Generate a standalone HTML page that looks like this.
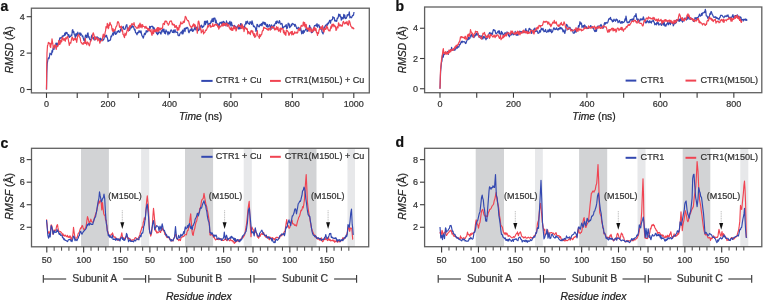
<!DOCTYPE html>
<html><head><meta charset="utf-8"><style>
html,body{margin:0;padding:0;background:#fff;width:763px;height:300px;overflow:hidden}
svg{display:block;font-family:"Liberation Sans",sans-serif;filter:blur(0.35px)}
text{stroke-width:0.22px}
</style></head><body>
<svg width="763" height="300" viewBox="0 0 763 300">
<path d="M46.50 89.50 L46.80 73.12 L47.20 64.02 L47.60 61.38 L48.00 58.74 L48.50 57.80 L49.00 58.65 L49.50 56.41 L50.00 53.15 L50.50 54.12 L51.00 53.80 L51.50 54.81 L52.00 50.56 L52.50 52.23 L53.00 48.48 L53.50 47.34 L54.00 49.42 L54.50 45.43 L55.00 46.41 L55.50 44.55 L56.00 43.16 L56.43 43.06 L56.87 45.72 L57.30 46.73 L57.80 43.16 L58.30 43.50 L58.80 42.40 L59.30 40.32 L59.80 37.84 L60.30 38.42 L60.80 37.53 L61.30 37.75 L61.80 38.13 L62.30 35.91 L62.80 36.59 L63.30 36.06 L63.80 35.38 L64.30 35.65 L64.80 33.13 L65.30 35.03 L65.80 32.43 L66.30 33.60 L66.80 32.29 L67.30 33.52 L67.80 34.41 L68.30 36.23 L68.80 34.60 L69.30 37.44 L69.80 36.29 L70.30 36.63 L70.80 36.01 L71.30 34.77 L71.80 35.81 L72.30 30.21 L72.80 29.76 L73.30 32.66 L73.80 31.58 L74.30 34.57 L74.80 35.03 L75.30 37.68 L75.80 33.90 L76.30 36.04 L76.80 33.41 L77.30 34.84 L77.80 32.16 L78.30 34.03 L78.80 34.28 L79.30 34.69 L79.80 32.74 L80.30 35.40 L80.80 33.18 L81.30 34.73 L81.80 34.86 L82.30 36.53 L82.80 35.95 L83.30 38.27 L84.00 40.56 L84.50 41.11 L85.00 37.86 L85.50 35.14 L86.00 35.02 L86.50 37.41 L87.00 37.68 L87.50 33.26 L88.00 32.93 L88.50 37.26 L89.00 36.53 L89.50 38.86 L90.00 39.63 L90.50 40.31 L91.00 38.94 L91.50 35.92 L92.00 35.00 L92.50 38.22 L93.00 37.46 L93.50 37.80 L94.00 39.74 L94.50 36.72 L95.00 39.99 L95.50 39.27 L96.00 37.57 L96.50 37.87 L97.00 36.66 L97.50 38.01 L98.00 37.62 L98.50 38.25 L99.00 38.22 L99.50 39.04 L100.00 40.44 L100.50 38.23 L101.00 40.39 L101.50 39.11 L102.00 40.64 L102.50 40.55 L103.00 40.54 L103.50 39.33 L104.00 39.09 L104.50 34.94 L105.00 36.71 L105.50 35.88 L106.00 36.99 L106.50 35.22 L107.00 36.94 L107.50 38.16 L108.00 41.53 L108.50 41.07 L109.00 40.18 L109.50 40.59 L110.00 40.41 L110.50 39.85 L111.00 36.07 L111.50 36.84 L112.00 35.56 L112.50 34.00 L113.00 32.76 L113.50 35.08 L114.00 31.89 L114.50 33.03 L115.00 31.35 L115.50 34.37 L116.00 33.92 L116.50 33.93 L117.00 31.63 L117.50 32.23 L118.00 30.93 L118.50 30.64 L119.00 31.99 L119.50 32.35 L120.00 32.05 L120.54 29.22 L121.08 30.49 L121.62 26.83 L122.16 27.90 L122.70 27.67 L123.22 26.43 L123.74 29.18 L124.26 29.22 L124.78 29.39 L125.30 28.25 L125.84 26.35 L126.38 24.85 L126.92 24.72 L127.46 29.83 L128.00 28.26 L128.50 28.74 L129.00 28.19 L129.50 30.46 L130.00 29.50 L130.50 27.08 L131.00 25.66 L131.50 27.97 L132.00 26.85 L132.50 25.72 L133.00 26.97 L133.50 26.65 L134.00 28.58 L134.50 30.18 L135.00 29.17 L135.50 32.68 L136.00 32.78 L136.50 33.83 L137.00 34.80 L137.50 32.39 L138.00 33.06 L138.50 32.53 L139.00 30.59 L139.50 32.03 L140.00 31.01 L140.50 32.74 L141.00 30.80 L141.50 33.78 L142.00 35.86 L142.43 36.04 L142.87 37.27 L143.30 38.21 L143.77 36.52 L144.23 34.03 L144.70 33.18 L145.20 34.59 L145.70 33.46 L146.20 30.69 L146.70 32.02 L147.20 30.86 L147.70 31.79 L148.20 30.61 L148.70 29.48 L149.20 29.92 L149.70 26.44 L150.20 28.40 L150.70 26.81 L151.20 26.35 L151.70 26.33 L152.20 26.62 L152.70 26.34 L153.20 29.23 L153.70 27.35 L154.20 28.18 L154.70 29.42 L155.20 31.63 L155.70 31.02 L156.20 32.23 L156.70 33.52 L157.13 33.81 L157.57 34.65 L158.00 31.97 L158.50 33.71 L159.00 31.87 L159.50 32.22 L160.00 32.03 L160.50 33.32 L161.00 34.07 L161.50 31.13 L162.00 30.27 L162.50 29.53 L163.00 32.02 L163.50 29.05 L164.00 29.02 L164.50 33.21 L165.00 31.74 L165.50 33.94 L166.00 29.83 L166.50 31.35 L167.00 31.42 L167.50 32.58 L168.00 34.97 L168.50 31.89 L169.00 32.16 L169.50 33.77 L170.00 32.74 L170.50 30.84 L171.00 29.91 L171.50 30.07 L172.00 31.46 L172.50 32.35 L173.00 32.53 L173.50 30.10 L174.00 32.71 L174.50 31.99 L175.00 29.68 L175.50 31.59 L176.00 32.55 L176.50 32.22 L177.00 32.17 L177.50 32.03 L178.00 35.28 L178.50 35.08 L179.00 35.83 L179.50 35.29 L180.00 33.34 L180.50 32.87 L181.00 32.16 L181.50 31.83 L182.00 33.88 L182.50 30.07 L183.00 33.92 L183.50 31.42 L184.00 29.57 L184.50 28.26 L185.00 31.71 L185.50 28.01 L186.00 27.97 L186.50 28.61 L187.00 27.32 L187.50 27.71 L188.00 28.25 L188.50 32.04 L189.00 32.79 L189.50 31.52 L190.00 29.87 L190.50 29.75 L191.00 30.67 L191.50 27.81 L192.00 28.84 L192.50 31.50 L193.00 30.22 L193.50 30.93 L194.00 29.21 L194.50 29.22 L195.00 25.86 L195.50 29.02 L196.00 30.05 L196.50 27.23 L197.00 27.19 L197.50 28.50 L198.00 30.74 L198.50 30.66 L199.00 29.19 L199.50 26.15 L200.00 29.60 L200.50 26.34 L201.00 25.61 L201.50 25.13 L202.00 27.50 L202.50 27.62 L203.00 26.09 L203.50 26.71 L204.00 25.81 L204.50 21.54 L205.00 21.15 L205.50 24.76 L206.00 21.24 L206.50 22.76 L207.00 20.83 L207.50 20.86 L208.00 24.89 L208.50 23.92 L209.00 24.82 L209.50 23.26 L210.00 23.75 L210.50 23.76 L211.00 20.81 L211.50 22.17 L212.00 18.97 L212.50 21.54 L213.00 18.35 L213.50 21.54 L214.00 17.99 L214.50 18.32 L215.00 18.13 L215.50 22.81 L216.00 20.20 L216.50 22.58 L217.00 23.91 L217.50 24.70 L218.00 23.72 L218.50 26.61 L219.00 26.98 L219.50 24.04 L220.00 22.30 L220.50 22.67 L221.00 23.23 L221.50 22.11 L222.00 25.23 L222.50 22.90 L223.00 21.42 L223.50 21.44 L224.00 23.36 L224.50 22.11 L225.00 23.49 L225.50 24.82 L226.00 25.91 L226.50 20.88 L227.00 24.41 L227.50 23.55 L228.00 22.94 L228.50 23.55 L229.00 24.97 L229.50 22.21 L230.00 21.29 L230.50 24.55 L231.00 26.06 L231.50 22.19 L232.00 24.76 L232.50 25.36 L233.00 26.01 L233.50 25.99 L234.00 26.75 L234.50 25.40 L235.00 27.75 L235.50 26.34 L236.00 27.14 L236.50 27.66 L237.00 28.00 L237.50 25.91 L238.00 26.20 L238.50 28.98 L239.00 28.75 L239.50 26.13 L240.00 28.87 L240.50 23.72 L241.00 28.05 L241.50 23.90 L242.00 26.13 L242.50 25.57 L243.00 27.41 L243.50 27.74 L244.00 28.00 L244.50 26.81 L245.00 24.48 L245.50 24.09 L246.00 21.45 L246.50 23.94 L247.00 22.29 L247.50 21.16 L248.00 22.93 L248.50 23.64 L249.00 23.46 L249.50 24.33 L250.00 21.57 L250.50 22.85 L251.00 22.21 L251.50 24.46 L252.00 20.74 L252.50 22.71 L253.00 24.72 L253.50 26.60 L254.00 25.88 L254.50 26.71 L255.00 27.23 L255.50 28.26 L256.00 31.46 L256.50 30.18 L257.00 24.37 L257.50 24.56 L258.00 26.08 L258.50 26.19 L259.00 26.98 L259.50 26.43 L260.00 24.33 L260.50 25.29 L261.00 24.94 L261.50 23.46 L262.00 25.91 L262.50 23.33 L263.00 21.94 L263.50 22.33 L264.00 24.18 L264.50 22.35 L265.00 24.74 L265.50 22.89 L266.00 24.79 L266.50 26.52 L267.00 26.84 L267.50 24.42 L268.00 27.26 L268.50 26.22 L269.00 26.02 L269.50 24.64 L270.00 25.61 L270.50 28.90 L271.00 29.46 L271.50 24.74 L272.00 27.14 L272.50 26.23 L273.00 28.51 L273.50 25.55 L274.00 25.02 L274.50 25.97 L275.00 23.49 L275.50 23.48 L276.00 21.52 L276.50 23.62 L277.00 20.81 L277.50 21.94 L278.00 22.32 L278.43 23.05 L278.87 22.54 L279.30 20.50 L279.77 21.35 L280.23 23.85 L280.70 24.20 L281.20 23.95 L281.70 23.28 L282.20 24.05 L282.70 28.14 L283.20 28.12 L283.70 26.86 L284.20 26.82 L284.70 26.14 L285.20 26.62 L285.70 25.55 L286.20 24.60 L286.70 28.65 L287.20 28.24 L287.70 27.00 L288.20 23.07 L288.70 24.83 L289.20 23.94 L289.70 27.66 L290.20 26.70 L290.70 26.62 L291.20 24.66 L291.70 25.53 L292.20 23.30 L292.70 23.92 L293.20 23.86 L293.70 24.50 L294.20 24.35 L294.70 26.27 L295.20 24.38 L295.70 25.53 L296.20 26.88 L296.70 28.62 L297.20 28.58 L297.70 28.65 L298.20 27.22 L298.70 29.12 L299.20 27.97 L299.70 29.00 L300.20 30.08 L300.70 27.92 L301.20 31.23 L301.70 33.86 L302.20 30.78 L302.70 32.64 L303.20 33.58 L303.70 30.45 L304.20 32.30 L304.70 30.87 L305.20 30.35 L305.70 29.28 L306.20 28.21 L306.70 29.54 L307.20 31.51 L307.70 29.38 L308.20 30.48 L308.70 29.17 L309.13 28.77 L309.57 25.40 L310.00 27.43 L310.50 27.31 L311.00 28.25 L311.50 32.65 L312.00 31.62 L312.50 32.38 L313.00 30.74 L313.50 30.98 L314.00 27.13 L314.50 25.62 L315.00 25.47 L315.50 25.59 L316.00 24.83 L316.50 26.07 L317.00 23.70 L317.50 27.24 L318.00 24.82 L318.50 25.39 L319.00 24.88 L319.50 27.92 L320.00 26.85 L320.50 29.01 L321.00 29.31 L321.50 28.84 L322.00 31.93 L322.70 33.13 L323.13 33.99 L323.57 30.38 L324.00 27.13 L324.50 28.80 L325.00 26.48 L325.50 25.34 L326.00 24.84 L326.50 26.51 L327.00 23.88 L327.50 25.11 L328.00 22.94 L328.50 23.51 L329.00 22.05 L329.50 20.59 L330.00 20.23 L330.50 23.23 L331.00 20.48 L331.50 20.07 L332.00 19.69 L332.43 19.68 L332.87 16.66 L333.30 17.95 L333.77 17.84 L334.23 17.61 L334.70 21.00 L335.20 20.20 L335.70 21.13 L336.20 20.81 L336.70 21.31 L337.20 18.15 L337.70 18.50 L338.20 17.30 L338.70 14.13 L339.13 16.08 L339.57 14.85 L340.00 14.36 L340.43 16.78 L340.87 16.70 L341.30 20.12 L341.80 17.46 L342.30 17.52 L342.80 19.04 L343.30 18.44 L343.80 14.34 L344.30 17.76 L344.80 15.14 L345.30 18.71 L345.80 18.12 L346.30 18.31 L346.80 16.65 L347.30 14.65 L347.80 15.79 L348.30 14.65 L348.80 14.45 L349.30 11.93 L349.90 17.82 L350.50 16.84 L351.00 16.96 L351.50 17.78 L352.00 16.93 L352.50 15.35 L353.00 15.62 L353.50 15.09 L354.00 11.97" fill="none" stroke="#3348b0" stroke-width="1.2" stroke-linejoin="round" stroke-opacity="1.0"/>
<path d="M46.50 89.50 L46.70 67.66 L47.00 53.10 L47.50 45.82 L47.95 44.68 L48.40 42.36 L48.85 42.75 L49.30 43.49 L49.77 43.09 L50.23 46.70 L50.70 47.43 L51.13 43.04 L51.57 44.03 L52.00 38.85 L52.43 41.70 L52.87 44.20 L53.30 48.22 L53.80 48.01 L54.30 45.54 L54.80 46.16 L55.30 44.64 L55.77 47.59 L56.23 49.39 L56.70 46.27 L57.20 45.80 L57.70 46.46 L58.20 45.52 L58.70 40.62 L59.13 43.59 L59.57 44.37 L60.00 44.31 L60.43 40.09 L60.87 42.81 L61.30 40.05 L61.80 41.41 L62.30 37.45 L62.80 37.63 L63.30 39.69 L63.80 40.22 L64.30 38.56 L64.80 39.91 L65.30 41.29 L65.80 37.67 L66.30 38.85 L66.80 37.95 L67.30 36.55 L67.80 37.01 L68.30 39.49 L68.80 42.31 L69.30 45.39 L69.80 43.47 L70.30 42.57 L70.80 43.05 L71.30 40.32 L71.77 38.26 L72.23 37.04 L72.70 38.30 L73.20 40.42 L73.70 40.41 L74.20 38.42 L74.70 38.99 L75.20 39.58 L75.70 38.14 L76.20 39.99 L76.70 42.43 L77.20 38.88 L77.70 35.56 L78.20 35.12 L78.70 34.31 L79.20 36.74 L79.70 37.06 L80.20 38.28 L80.70 41.41 L81.20 42.83 L81.70 42.70 L82.20 44.00 L82.70 43.76 L83.13 44.44 L83.57 42.55 L84.00 42.93 L84.43 42.40 L84.87 43.55 L85.30 38.31 L85.80 43.40 L86.30 42.63 L86.80 44.97 L87.30 41.88 L87.80 42.98 L88.30 42.92 L88.80 44.55 L89.30 45.87 L89.80 44.48 L90.30 41.92 L90.80 41.19 L91.30 40.03 L91.80 39.05 L92.30 37.85 L92.80 33.93 L93.30 32.85 L93.80 34.42 L94.30 36.38 L94.80 40.01 L95.30 36.87 L95.80 37.55 L96.30 39.08 L96.80 38.15 L97.30 37.82 L97.80 40.80 L98.30 39.43 L98.80 38.79 L99.30 40.06 L99.80 43.22 L100.30 41.48 L100.80 41.14 L101.30 40.66 L101.80 40.28 L102.30 40.43 L102.80 36.09 L103.30 34.07 L103.77 36.28 L104.23 37.20 L104.70 36.02 L105.13 32.37 L105.57 30.85 L106.00 26.51 L106.43 27.98 L106.87 27.34 L107.30 23.35 L107.77 25.01 L108.23 28.65 L108.70 28.00 L109.13 24.02 L109.57 25.35 L110.00 22.28 L110.50 24.35 L111.00 24.75 L111.50 25.84 L112.00 29.09 L112.50 31.15 L113.00 28.59 L113.50 31.64 L114.00 30.19 L114.50 29.79 L115.00 30.56 L115.50 28.59 L116.00 26.77 L116.50 26.37 L117.00 24.94 L117.50 22.03 L118.00 21.58 L118.50 22.38 L119.00 23.60 L119.50 27.08 L120.00 26.47 L120.50 27.85 L121.00 26.76 L121.50 26.23 L122.00 31.15 L122.50 29.96 L123.00 34.40 L123.50 34.57 L124.00 36.43 L124.50 37.64 L125.00 33.18 L125.50 35.27 L126.00 35.07 L126.50 33.21 L127.00 30.52 L127.50 30.33 L128.00 27.72 L128.50 31.14 L129.00 29.43 L129.50 26.22 L130.00 25.75 L130.50 27.18 L131.00 25.62 L131.50 24.36 L132.00 23.54 L132.50 24.29 L133.00 24.76 L133.50 24.92 L134.00 22.70 L134.50 25.38 L135.00 26.57 L135.50 26.60 L136.00 27.13 L136.50 28.21 L137.00 27.93 L137.50 28.16 L138.00 26.74 L138.50 25.19 L139.00 28.07 L139.50 25.13 L140.00 23.19 L140.50 27.06 L141.00 24.36 L141.50 25.97 L142.00 27.89 L142.50 24.49 L143.00 26.31 L143.50 26.39 L144.00 26.55 L144.50 26.81 L145.00 28.30 L145.50 26.66 L146.00 26.33 L146.50 28.33 L147.00 27.85 L147.50 28.43 L148.00 30.69 L148.50 28.67 L149.00 28.67 L149.50 30.47 L150.00 31.01 L150.50 31.73 L151.00 29.44 L151.50 33.72 L152.00 35.34 L152.50 33.17 L153.00 29.70 L153.50 33.68 L154.00 31.69 L154.50 29.92 L155.00 31.63 L155.50 31.19 L156.00 29.12 L156.50 31.30 L157.00 28.28 L157.50 27.60 L158.00 31.93 L158.50 27.60 L159.00 30.59 L159.50 28.74 L160.00 27.93 L160.50 29.93 L161.00 29.00 L161.50 28.24 L162.00 28.54 L162.50 28.20 L163.00 24.00 L163.50 23.43 L164.00 23.63 L164.43 24.57 L164.87 21.16 L165.30 20.93 L165.80 21.78 L166.30 21.12 L166.80 21.68 L167.30 23.53 L167.80 23.62 L168.30 25.23 L168.80 24.42 L169.30 23.10 L169.80 21.42 L170.30 21.32 L170.80 20.85 L171.30 20.89 L171.80 22.17 L172.30 24.77 L172.80 23.69 L173.30 24.85 L173.80 25.19 L174.30 24.48 L174.80 27.27 L175.30 25.80 L175.80 27.29 L176.30 25.65 L176.80 27.44 L177.30 30.52 L177.80 27.50 L178.30 29.93 L178.80 29.92 L179.30 25.35 L179.80 27.17 L180.30 24.33 L180.80 21.85 L181.30 23.48 L181.80 23.92 L182.30 23.59 L182.80 23.26 L183.30 21.15 L183.80 22.32 L184.30 22.36 L184.80 19.72 L185.30 16.37 L185.80 16.86 L186.30 17.96 L186.80 19.71 L187.30 19.94 L187.80 20.83 L188.30 20.55 L188.80 21.72 L189.30 24.13 L189.80 25.33 L190.30 26.36 L190.80 26.13 L191.30 27.95 L191.80 26.96 L192.30 26.90 L192.80 24.77 L193.30 25.57 L193.80 23.72 L194.30 26.93 L194.80 24.53 L195.30 25.59 L196.00 27.65 L196.43 28.82 L196.87 29.65 L197.30 33.17 L197.77 26.37 L198.23 21.48 L198.70 21.08 L199.13 22.94 L199.57 25.05 L200.00 29.54 L200.43 28.07 L200.87 28.89 L201.30 32.83 L201.77 30.98 L202.23 31.53 L202.70 31.63 L203.13 29.49 L203.57 33.86 L204.00 32.62 L204.43 32.66 L204.87 32.31 L205.30 30.90 L205.80 29.96 L206.30 30.26 L206.80 29.14 L207.30 27.69 L207.80 25.51 L208.30 27.01 L208.80 26.86 L209.30 24.71 L209.80 24.53 L210.30 25.15 L210.80 27.46 L211.30 26.25 L211.80 26.34 L212.30 26.45 L212.80 23.59 L213.30 26.49 L213.80 26.23 L214.30 25.72 L214.80 24.52 L215.30 24.15 L215.80 25.06 L216.30 25.27 L216.80 24.00 L217.30 25.29 L217.80 27.19 L218.30 25.92 L218.80 29.10 L219.30 27.68 L219.80 26.02 L220.30 26.97 L220.80 26.78 L221.30 25.47 L221.80 25.03 L222.30 23.87 L222.80 26.22 L223.30 23.17 L223.80 25.68 L224.30 23.36 L224.80 25.47 L225.30 25.07 L225.80 23.65 L226.30 24.13 L226.80 23.02 L227.30 26.38 L227.80 24.34 L228.30 25.83 L228.80 24.90 L229.30 27.95 L229.80 28.08 L230.30 29.67 L230.80 28.51 L231.30 27.30 L231.80 30.46 L232.30 28.72 L232.80 30.31 L233.30 27.30 L233.84 25.68 L234.38 28.82 L234.92 27.56 L235.46 26.98 L236.00 30.85 L236.50 30.00 L237.00 27.50 L237.50 27.43 L238.00 26.93 L238.50 24.62 L239.00 25.31 L239.50 26.58 L240.00 25.40 L240.50 26.61 L241.00 27.54 L241.50 28.57 L242.00 24.18 L242.50 26.61 L243.00 28.79 L243.50 26.42 L244.00 31.54 L244.50 29.36 L245.00 28.41 L245.50 27.41 L246.00 28.16 L246.43 29.41 L246.87 28.63 L247.30 28.99 L247.80 33.85 L248.30 31.57 L248.80 31.60 L249.30 33.39 L249.80 32.80 L250.30 34.64 L250.80 30.80 L251.30 31.27 L251.80 30.45 L252.30 32.91 L252.80 31.20 L253.30 34.42 L253.80 35.89 L254.30 33.49 L254.80 37.37 L255.30 36.36 L255.80 36.38 L256.30 33.83 L256.80 33.63 L257.30 30.55 L257.80 35.67 L258.30 36.18 L258.80 36.49 L259.30 38.37 L259.77 34.30 L260.23 36.65 L260.70 35.95 L261.20 34.62 L261.70 34.35 L262.20 31.57 L262.70 30.43 L263.20 30.58 L263.70 27.06 L264.20 28.07 L264.70 27.61 L265.20 28.33 L265.70 28.50 L266.20 28.32 L266.70 29.09 L267.20 29.53 L267.70 28.78 L268.20 30.39 L268.70 28.49 L269.20 28.20 L269.70 29.07 L270.20 30.19 L270.70 29.42 L271.20 27.62 L271.70 26.53 L272.20 26.98 L272.70 27.62 L273.13 26.97 L273.57 27.85 L274.00 27.07 L274.50 29.91 L275.00 28.38 L275.50 29.68 L276.00 29.75 L276.50 26.71 L277.00 27.96 L277.50 29.64 L278.00 27.21 L278.50 31.09 L279.00 30.53 L279.50 30.81 L280.00 28.29 L280.50 32.08 L281.00 27.81 L281.50 29.16 L282.00 28.79 L282.50 28.50 L283.00 28.77 L283.50 32.61 L284.00 30.67 L284.43 34.23 L284.87 32.33 L285.30 33.50 L285.80 35.44 L286.30 30.48 L286.80 30.09 L287.30 30.95 L287.80 31.52 L288.30 32.10 L288.80 35.22 L289.30 34.99 L289.80 32.92 L290.30 32.42 L290.80 33.23 L291.30 31.50 L291.80 34.82 L292.30 31.43 L292.80 33.77 L293.30 34.69 L293.80 33.44 L294.30 33.62 L294.80 31.73 L295.30 32.80 L295.80 33.09 L296.30 32.89 L296.80 32.21 L297.30 33.09 L297.80 32.48 L298.30 28.93 L298.80 29.94 L299.30 28.84 L299.80 30.73 L300.30 27.52 L300.80 26.99 L301.30 25.25 L301.80 26.13 L302.30 26.17 L302.80 26.02 L303.30 21.99 L303.77 22.27 L304.23 25.81 L304.70 22.51 L305.20 27.30 L305.70 25.19 L306.20 24.43 L306.70 28.89 L307.20 28.10 L307.70 29.38 L308.20 27.87 L308.70 29.62 L309.13 31.52 L309.57 28.09 L310.00 28.40 L310.50 27.99 L311.00 32.00 L311.50 29.65 L312.00 30.23 L312.50 32.04 L313.00 29.41 L313.50 28.07 L314.00 30.65 L314.50 27.28 L315.00 28.35 L315.50 30.69 L316.00 28.58 L316.50 32.73 L317.00 32.34 L317.50 35.50 L318.00 32.58 L318.50 33.37 L319.00 30.47 L319.50 28.94 L320.00 28.59 L320.50 28.69 L321.00 26.82 L321.50 27.11 L322.00 29.52 L322.50 25.64 L323.00 29.28 L323.50 31.81 L324.00 32.04 L324.50 29.11 L325.00 28.09 L325.50 29.46 L326.00 29.29 L326.50 25.72 L327.00 27.94 L327.50 27.10 L328.00 29.45 L328.50 30.22 L329.00 30.83 L329.50 30.10 L330.00 30.90 L330.50 28.29 L331.00 26.10 L331.50 28.13 L332.00 24.07 L332.50 26.16 L333.00 24.73 L333.50 24.22 L334.00 26.85 L334.50 25.21 L335.00 26.13 L335.50 26.31 L336.00 30.32 L336.50 30.06 L337.00 27.26 L337.50 26.66 L338.00 27.88 L338.50 22.75 L339.00 23.76 L339.50 25.94 L340.00 25.88 L340.50 24.72 L341.00 25.96 L341.50 25.28 L342.00 26.37 L342.50 25.17 L343.00 22.04 L343.50 21.41 L344.00 22.74 L344.50 23.83 L345.00 23.01 L345.50 22.28 L346.00 23.62 L346.50 22.47 L347.00 21.43 L347.50 24.69 L348.00 23.86 L348.50 25.19 L349.00 20.64 L349.50 21.28 L350.00 22.78 L350.50 24.79 L351.00 26.57 L351.50 26.81 L352.00 28.02 L352.50 27.44 L353.00 28.58 L353.50 27.87 L354.00 29.26" fill="none" stroke="#f04452" stroke-width="1.2" stroke-linejoin="round" stroke-opacity="1.0"/>
<rect x="31.40" y="8.20" width="337.90" height="84.70" fill="none" stroke="#606060" stroke-width="1.3"/>
<line x1="26.70" y1="89.50" x2="31.40" y2="89.50" stroke="#3a3a3a" stroke-width="1.1"/>
<text x="24.70" y="92.60" font-size="9.0" text-anchor="end" font-weight="normal" font-style="normal" fill="#333" stroke="#333" >0</text>
<line x1="26.70" y1="53.10" x2="31.40" y2="53.10" stroke="#3a3a3a" stroke-width="1.1"/>
<text x="24.70" y="56.20" font-size="9.0" text-anchor="end" font-weight="normal" font-style="normal" fill="#333" stroke="#333" >2</text>
<line x1="26.70" y1="16.70" x2="31.40" y2="16.70" stroke="#3a3a3a" stroke-width="1.1"/>
<text x="24.70" y="19.80" font-size="9.0" text-anchor="end" font-weight="normal" font-style="normal" fill="#333" stroke="#333" >4</text>
<line x1="46.50" y1="92.90" x2="46.50" y2="97.90" stroke="#3a3a3a" stroke-width="1.1"/>
<text x="46.50" y="106.80" font-size="9.0" text-anchor="middle" font-weight="normal" font-style="normal" fill="#333" stroke="#333" >0</text>
<line x1="77.23" y1="92.90" x2="77.23" y2="97.90" stroke="#3a3a3a" stroke-width="1.1"/>
<line x1="107.96" y1="92.90" x2="107.96" y2="97.90" stroke="#3a3a3a" stroke-width="1.1"/>
<text x="107.96" y="106.80" font-size="9.0" text-anchor="middle" font-weight="normal" font-style="normal" fill="#333" stroke="#333" >200</text>
<line x1="138.69" y1="92.90" x2="138.69" y2="97.90" stroke="#3a3a3a" stroke-width="1.1"/>
<line x1="169.42" y1="92.90" x2="169.42" y2="97.90" stroke="#3a3a3a" stroke-width="1.1"/>
<text x="169.42" y="106.80" font-size="9.0" text-anchor="middle" font-weight="normal" font-style="normal" fill="#333" stroke="#333" >400</text>
<line x1="200.15" y1="92.90" x2="200.15" y2="97.90" stroke="#3a3a3a" stroke-width="1.1"/>
<line x1="230.88" y1="92.90" x2="230.88" y2="97.90" stroke="#3a3a3a" stroke-width="1.1"/>
<text x="230.88" y="106.80" font-size="9.0" text-anchor="middle" font-weight="normal" font-style="normal" fill="#333" stroke="#333" >600</text>
<line x1="261.61" y1="92.90" x2="261.61" y2="97.90" stroke="#3a3a3a" stroke-width="1.1"/>
<line x1="292.34" y1="92.90" x2="292.34" y2="97.90" stroke="#3a3a3a" stroke-width="1.1"/>
<text x="292.34" y="106.80" font-size="9.0" text-anchor="middle" font-weight="normal" font-style="normal" fill="#333" stroke="#333" >800</text>
<line x1="323.07" y1="92.90" x2="323.07" y2="97.90" stroke="#3a3a3a" stroke-width="1.1"/>
<line x1="353.80" y1="92.90" x2="353.80" y2="97.90" stroke="#3a3a3a" stroke-width="1.1"/>
<text x="353.80" y="106.80" font-size="9.0" text-anchor="middle" font-weight="normal" font-style="normal" fill="#333" stroke="#333" >1000</text>
<text x="0.60" y="10.60" font-size="14" text-anchor="start" font-weight="bold" font-style="normal" fill="#111" stroke="#111" >a</text>
<text x="200.60" y="119.80" font-size="10.3" text-anchor="middle" fill="#222" stroke="#222"><tspan font-style="italic">Time</tspan> (ns)</text>
<text transform="translate(12.50 49.70) rotate(-90)" font-size="10.3" text-anchor="middle" fill="#222" stroke="#222"><tspan font-style="italic">RMSD</tspan> (Å)</text>
<line x1="201.30" y1="80.90" x2="212.60" y2="80.90" stroke="#3348b0" stroke-width="2.0"/>
<text x="215.80" y="83.30" font-size="9.1" text-anchor="start" font-weight="normal" font-style="normal" fill="#333" stroke="#333" >CTR1 + Cu</text>
<line x1="270.00" y1="80.90" x2="280.80" y2="80.90" stroke="#f04452" stroke-width="2.0"/>
<text x="284.80" y="83.30" font-size="9.1" text-anchor="start" font-weight="normal" font-style="normal" fill="#333" stroke="#333" >CTR1(M150L) + Cu</text>
<path d="M440.00 88.75 L440.30 79.67 L440.60 71.66 L441.05 67.05 L441.50 62.43 L441.95 61.05 L442.40 55.25 L442.85 56.34 L443.30 57.21 L443.80 53.52 L444.30 54.52 L444.75 53.94 L445.20 53.21 L445.65 52.72 L446.10 53.32 L446.55 52.56 L447.00 53.23 L447.45 51.47 L447.90 53.60 L448.38 54.28 L448.85 51.89 L449.32 51.33 L449.80 50.73 L450.25 49.81 L450.70 50.59 L451.15 50.55 L451.60 47.43 L452.05 50.16 L452.50 49.45 L452.95 50.17 L453.40 49.91 L453.88 49.84 L454.35 49.17 L454.82 50.39 L455.30 47.49 L455.75 49.20 L456.20 46.45 L456.65 47.33 L457.10 48.34 L457.55 46.31 L458.00 46.88 L458.45 47.24 L458.90 46.92 L459.45 44.50 L460.00 44.62 L460.50 43.64 L461.00 42.12 L461.50 41.36 L462.00 42.73 L462.50 41.23 L463.00 41.46 L463.50 41.91 L464.00 41.93 L464.50 41.71 L465.00 42.39 L465.50 43.53 L466.00 43.24 L466.50 41.41 L467.00 40.29 L467.50 38.86 L468.00 39.64 L468.50 37.26 L469.00 39.20 L469.50 37.96 L470.00 38.16 L470.50 35.73 L471.00 35.02 L471.50 34.40 L472.00 36.96 L472.50 36.22 L473.00 35.04 L473.50 37.48 L474.00 37.53 L474.50 35.34 L475.00 36.14 L475.50 35.29 L476.00 33.75 L476.50 33.15 L477.00 35.39 L477.50 34.01 L478.00 33.54 L478.50 35.12 L479.00 37.06 L479.50 35.52 L480.00 37.56 L480.50 37.99 L481.00 35.71 L481.50 37.15 L482.00 36.45 L482.50 38.95 L483.00 38.95 L483.50 36.50 L484.00 36.32 L484.50 37.91 L485.00 37.09 L485.50 38.44 L486.00 39.78 L486.50 38.26 L487.00 37.88 L487.50 38.15 L488.00 35.25 L488.50 34.46 L489.00 33.93 L489.50 32.75 L490.00 32.36 L490.50 34.82 L491.00 34.67 L491.50 33.19 L492.00 34.33 L492.43 34.16 L492.87 31.48 L493.30 29.90 L493.77 29.65 L494.23 30.66 L494.70 30.12 L495.13 30.50 L495.57 33.07 L496.00 33.82 L496.50 33.65 L497.00 32.82 L497.50 32.26 L498.00 31.29 L498.50 30.92 L499.00 33.44 L499.50 30.84 L500.00 34.10 L500.50 33.86 L501.00 34.71 L501.50 31.44 L502.00 33.29 L502.50 32.79 L503.00 34.76 L503.50 34.84 L504.00 34.31 L504.50 34.07 L505.00 32.65 L505.50 33.00 L506.00 35.52 L506.50 34.70 L507.00 31.90 L507.50 33.21 L508.00 32.42 L508.43 35.36 L508.87 34.99 L509.30 36.81 L509.77 35.78 L510.23 35.29 L510.70 33.94 L511.20 32.13 L511.70 35.01 L512.20 32.99 L512.70 33.84 L513.20 33.24 L513.70 34.82 L514.20 33.48 L514.70 34.06 L515.20 31.34 L515.70 33.86 L516.20 35.21 L516.70 33.85 L517.13 35.35 L517.57 34.42 L518.00 34.95 L518.43 34.83 L518.87 32.50 L519.30 32.14 L519.80 31.05 L520.30 31.65 L520.80 32.32 L521.30 31.58 L521.80 32.63 L522.30 32.13 L522.80 31.48 L523.30 31.91 L523.80 32.62 L524.30 32.69 L524.80 31.63 L525.30 29.72 L525.80 28.65 L526.30 31.07 L526.80 30.53 L527.30 31.50 L528.00 31.64 L528.50 31.80 L529.00 28.72 L529.50 28.33 L530.00 29.47 L530.50 29.30 L531.00 29.77 L531.50 33.31 L532.00 31.50 L532.50 31.58 L533.00 30.24 L533.50 30.49 L534.00 28.84 L534.50 29.34 L535.00 27.99 L535.50 31.54 L536.00 31.52 L536.50 30.19 L537.00 30.82 L537.50 31.86 L538.00 33.37 L538.50 33.22 L539.00 32.95 L539.50 30.56 L540.00 32.14 L540.50 31.89 L541.00 29.01 L541.50 28.19 L542.00 29.46 L542.50 29.95 L543.00 28.44 L543.50 30.38 L544.00 31.77 L544.50 30.81 L545.00 31.42 L545.50 29.46 L546.00 31.28 L546.50 32.33 L547.00 31.96 L547.50 31.69 L548.00 29.83 L548.50 31.79 L549.00 31.67 L549.50 29.05 L550.00 30.88 L550.50 31.32 L551.00 29.35 L551.50 32.76 L552.00 32.17 L552.50 31.84 L553.00 29.93 L553.50 28.59 L554.00 27.67 L554.50 28.88 L555.00 29.66 L555.50 28.99 L556.00 29.43 L556.50 27.78 L557.00 28.82 L557.50 29.56 L558.00 30.10 L558.50 28.42 L559.00 28.89 L559.50 29.10 L560.00 27.07 L560.50 28.81 L561.00 27.61 L561.50 29.00 L562.00 28.17 L562.50 29.39 L563.00 31.89 L563.50 30.13 L564.00 30.00 L564.43 32.43 L564.87 33.38 L565.30 31.21 L565.77 30.64 L566.23 25.77 L566.70 24.27 L567.20 25.78 L567.70 25.77 L568.20 27.82 L568.70 29.32 L569.20 28.87 L569.70 27.20 L570.20 27.91 L570.70 30.02 L571.20 29.69 L571.70 29.29 L572.20 29.91 L572.70 30.95 L573.13 33.00 L573.57 33.25 L574.00 33.06 L574.50 33.03 L575.00 29.72 L575.50 30.49 L576.00 32.46 L576.50 29.63 L577.00 28.43 L577.50 30.77 L578.00 28.70 L578.50 25.69 L579.00 27.06 L579.50 24.52 L580.00 21.73 L580.50 24.12 L581.00 22.91 L581.50 23.29 L582.00 27.34 L582.50 25.97 L583.00 26.76 L583.50 25.60 L584.00 27.91 L584.50 24.98 L585.00 25.40 L585.50 27.15 L586.00 27.74 L586.50 26.72 L587.00 28.44 L587.50 28.49 L588.00 28.54 L588.50 28.29 L589.00 27.58 L589.50 27.09 L590.00 26.80 L590.50 25.64 L591.00 25.76 L591.50 27.33 L592.00 27.59 L592.50 26.85 L593.00 28.41 L593.50 28.19 L594.00 29.87 L594.50 31.14 L595.00 31.62 L595.50 30.01 L596.00 31.36 L596.50 31.17 L597.00 27.13 L597.50 27.97 L598.00 25.93 L598.50 26.32 L599.00 27.15 L599.50 27.37 L600.00 25.36 L600.50 26.02 L601.00 24.44 L601.50 25.46 L602.00 26.78 L602.43 27.14 L602.87 28.34 L603.30 27.65 L603.77 26.06 L604.23 23.83 L604.70 22.64 L605.20 24.20 L605.70 22.79 L606.20 22.37 L606.70 23.17 L607.20 23.06 L607.70 22.69 L608.20 21.03 L608.70 19.24 L609.13 18.45 L609.57 18.58 L610.00 19.11 L610.50 17.39 L611.00 19.59 L611.50 19.53 L612.00 20.82 L612.50 21.86 L613.00 20.22 L613.50 21.48 L614.00 19.16 L614.50 20.16 L615.00 20.31 L615.50 21.26 L616.00 19.33 L616.50 19.08 L617.00 20.30 L617.50 19.81 L618.00 22.67 L618.50 21.97 L619.00 21.54 L619.50 20.44 L620.00 22.37 L620.50 23.19 L621.00 22.36 L621.50 21.62 L622.00 23.29 L622.50 21.59 L623.00 22.56 L623.50 22.46 L624.00 22.04 L624.50 21.63 L625.00 18.94 L625.50 20.24 L626.00 16.10 L626.43 18.68 L626.87 21.78 L627.30 22.78 L627.77 22.04 L628.23 22.38 L628.70 22.58 L629.20 21.42 L629.70 21.99 L630.20 19.75 L630.70 19.95 L631.20 19.26 L631.70 19.32 L632.20 21.30 L632.70 18.81 L633.20 19.88 L633.70 18.94 L634.20 16.35 L634.70 15.89 L635.13 15.44 L635.57 16.51 L636.00 13.57 L636.43 16.33 L636.87 19.50 L637.30 18.79 L637.80 21.21 L638.30 19.01 L638.80 22.15 L639.30 20.44 L639.80 21.08 L640.30 18.90 L640.80 19.80 L641.30 18.93 L641.80 19.98 L642.30 18.99 L642.80 19.51 L643.30 16.81 L643.80 18.28 L644.30 20.41 L644.80 20.09 L645.30 22.60 L645.80 22.97 L646.30 21.20 L646.80 22.68 L647.30 20.58 L647.80 21.37 L648.30 21.36 L648.80 22.81 L649.30 22.58 L649.80 20.70 L650.30 22.26 L650.80 21.95 L651.30 23.14 L651.80 21.26 L652.30 20.90 L652.80 21.21 L653.30 20.16 L653.80 22.00 L654.30 22.31 L654.80 24.78 L655.30 24.06 L655.80 23.64 L656.30 24.84 L656.80 22.47 L657.30 22.40 L657.80 23.89 L658.30 22.64 L658.80 25.13 L659.30 24.32 L659.80 24.07 L660.30 23.68 L660.80 23.99 L661.30 25.39 L661.80 25.04 L662.30 21.99 L662.80 22.11 L663.30 24.25 L663.80 25.10 L664.30 22.71 L664.80 25.94 L665.30 24.91 L665.80 26.17 L666.30 25.00 L666.80 23.66 L667.30 23.68 L667.80 21.97 L668.30 24.78 L668.80 23.11 L669.30 23.47 L669.80 21.77 L670.30 24.57 L670.80 22.69 L671.30 22.58 L671.80 21.67 L672.30 23.50 L672.80 23.03 L673.30 25.85 L673.80 24.70 L674.30 22.40 L674.80 23.67 L675.30 23.29 L675.80 20.45 L676.30 22.77 L676.80 19.53 L677.30 20.65 L678.00 20.02 L678.50 21.08 L679.00 18.99 L679.50 21.27 L680.00 19.85 L680.50 18.55 L681.00 20.75 L681.50 19.81 L682.00 20.81 L682.50 22.08 L683.00 20.34 L683.50 20.98 L684.00 19.41 L684.50 18.16 L685.00 19.17 L685.50 18.17 L686.00 18.57 L686.50 20.04 L687.00 18.37 L687.50 16.31 L688.00 19.03 L688.50 16.89 L689.00 16.60 L689.50 18.12 L690.00 19.44 L690.50 19.20 L691.00 18.65 L691.50 18.18 L692.00 19.11 L692.50 19.49 L693.00 19.47 L693.50 21.33 L694.00 21.14 L694.50 20.69 L695.00 17.58 L695.50 18.89 L696.00 17.85 L696.50 19.43 L697.00 17.49 L697.50 17.51 L698.00 17.74 L698.50 16.47 L699.00 15.90 L699.50 14.11 L700.00 16.12 L700.50 16.11 L701.00 15.52 L701.50 13.41 L702.00 15.32 L702.50 13.43 L703.00 12.67 L703.50 12.98 L704.00 12.93 L704.43 11.58 L704.87 12.42 L705.30 9.42 L705.77 11.07 L706.23 15.67 L706.70 16.05 L707.13 15.99 L707.57 17.64 L708.00 18.54 L708.50 16.98 L709.00 17.20 L709.50 15.74 L710.00 13.45 L710.43 14.27 L710.87 11.95 L711.30 11.55 L711.77 12.93 L712.23 14.53 L712.70 15.00 L713.20 16.31 L713.70 17.29 L714.20 17.47 L714.70 17.00 L715.13 16.58 L715.57 16.99 L716.00 18.38 L716.50 17.27 L717.00 17.55 L717.50 18.70 L718.00 18.64 L718.50 18.62 L719.00 19.86 L719.50 17.72 L720.00 17.72 L720.50 15.73 L721.00 15.20 L721.50 15.35 L722.00 15.44 L722.50 16.08 L723.00 16.81 L723.50 17.04 L724.00 17.49 L724.50 16.82 L725.00 15.85 L725.50 16.13 L726.00 16.72 L726.50 16.32 L727.00 15.21 L727.50 16.13 L728.00 14.85 L728.50 17.18 L729.00 17.46 L729.50 17.85 L730.00 17.00 L730.50 19.61 L731.00 18.77 L731.50 17.17 L732.00 17.07 L732.50 15.36 L733.00 14.67 L733.50 17.55 L734.00 16.85 L734.50 17.75 L735.00 15.59 L735.50 15.53 L736.00 15.81 L736.50 16.87 L737.00 15.26 L737.50 14.85 L738.00 16.14 L738.50 16.50 L739.00 16.37 L739.50 18.78 L740.00 17.81 L740.50 16.91 L741.00 17.38 L741.50 20.55 L742.00 19.50 L742.50 19.90 L743.00 19.50 L743.50 20.95 L744.00 19.18 L744.50 19.40 L745.00 19.95 L745.50 19.00 L746.00 20.49 L746.50 19.25 L747.00 20.69" fill="none" stroke="#3348b0" stroke-width="1.2" stroke-linejoin="round" stroke-opacity="1.0"/>
<path d="M440.00 88.75 L440.30 76.65 L440.60 69.09 L441.05 64.55 L441.50 60.01 L441.95 56.94 L442.40 54.73 L442.85 50.92 L443.30 48.51 L443.80 52.82 L444.30 53.57 L444.75 52.32 L445.20 54.20 L445.65 51.52 L446.10 52.16 L446.55 54.17 L447.00 53.91 L447.45 52.09 L447.90 53.98 L448.38 53.79 L448.85 50.12 L449.32 52.52 L449.80 51.43 L450.25 50.03 L450.70 51.92 L451.15 49.35 L451.60 49.82 L452.05 50.39 L452.50 50.24 L452.95 48.84 L453.40 50.14 L453.88 48.30 L454.35 48.88 L454.82 46.86 L455.30 48.20 L455.75 46.42 L456.20 45.08 L456.65 46.68 L457.10 45.38 L457.55 45.35 L458.00 44.05 L458.45 44.62 L458.90 42.18 L459.45 42.23 L460.00 39.82 L460.50 36.75 L461.00 37.91 L461.50 36.57 L462.00 36.85 L462.50 37.57 L463.00 37.26 L463.50 37.33 L464.00 38.01 L464.50 38.50 L465.00 36.44 L465.50 36.35 L466.00 39.63 L466.50 38.37 L467.00 38.85 L467.50 35.40 L468.00 34.42 L468.50 36.34 L469.00 33.89 L469.50 36.20 L470.00 33.97 L470.50 29.69 L471.00 31.97 L471.50 32.06 L472.00 33.87 L472.50 33.29 L473.00 36.38 L473.50 37.33 L474.00 34.83 L474.50 33.47 L475.00 33.33 L475.50 31.20 L476.00 32.07 L476.50 31.77 L477.00 31.51 L477.50 31.57 L478.00 34.17 L478.50 34.78 L479.00 36.89 L479.50 37.25 L480.00 36.62 L480.50 37.55 L481.00 37.74 L481.50 39.19 L482.00 37.21 L482.50 35.86 L483.00 33.18 L483.50 34.00 L484.00 33.60 L484.50 32.40 L485.00 35.26 L485.50 34.82 L486.00 37.87 L486.50 36.45 L487.00 36.13 L487.50 37.44 L488.00 36.26 L488.50 34.29 L489.00 36.47 L489.50 38.32 L490.00 37.17 L490.50 34.39 L491.00 35.39 L491.50 35.05 L492.00 35.80 L492.50 36.53 L493.00 37.07 L493.50 36.46 L494.00 34.93 L494.50 35.79 L495.00 37.58 L495.50 36.70 L496.00 35.20 L496.50 36.12 L497.00 35.09 L497.50 34.81 L498.00 35.05 L498.50 36.20 L499.00 37.37 L499.50 38.40 L500.00 36.89 L500.50 35.23 L501.00 39.76 L501.50 38.28 L502.00 38.41 L502.50 37.76 L503.00 35.30 L503.50 37.71 L504.00 35.01 L504.50 36.60 L505.00 35.36 L505.50 33.92 L506.00 35.80 L506.50 35.84 L507.00 32.75 L507.50 33.86 L508.00 32.87 L508.50 32.72 L509.00 32.87 L509.50 34.02 L510.00 34.36 L510.50 34.53 L511.00 30.81 L511.50 33.04 L512.00 31.99 L512.50 31.17 L513.00 33.14 L513.50 33.54 L514.00 33.39 L514.50 34.03 L515.00 33.98 L515.50 32.09 L516.00 34.23 L516.50 32.44 L517.00 33.35 L517.50 31.19 L518.00 32.67 L518.50 34.34 L519.00 31.46 L519.50 33.74 L520.00 34.80 L520.50 32.25 L521.00 33.10 L521.50 33.22 L522.00 33.08 L522.50 31.07 L523.00 32.79 L523.50 30.20 L524.00 31.68 L524.50 32.46 L525.00 30.92 L525.50 32.47 L526.00 33.22 L526.50 31.71 L527.00 31.33 L527.50 33.64 L528.00 31.90 L528.50 33.34 L529.00 32.62 L529.50 32.34 L530.00 33.31 L530.50 31.36 L531.00 30.08 L531.50 30.70 L532.00 30.43 L532.50 31.31 L533.00 33.20 L533.50 30.69 L534.00 34.03 L534.50 31.90 L535.00 30.25 L535.50 29.44 L536.00 30.47 L536.50 27.94 L537.00 28.98 L537.50 27.02 L538.00 28.82 L538.50 27.76 L539.00 25.33 L539.50 25.63 L540.00 25.50 L540.43 27.06 L540.87 25.50 L541.30 25.63 L541.80 25.59 L542.30 25.40 L542.80 24.39 L543.30 22.03 L543.80 21.22 L544.30 22.14 L544.80 22.16 L545.30 21.47 L545.80 22.15 L546.30 21.45 L546.80 21.47 L547.30 21.80 L547.80 24.16 L548.30 22.48 L548.80 22.05 L549.30 24.12 L549.80 24.82 L550.30 24.08 L550.80 26.58 L551.30 25.78 L551.80 24.21 L552.30 23.65 L552.80 22.18 L553.30 22.25 L553.80 23.10 L554.30 20.24 L554.80 23.12 L555.30 22.32 L555.80 23.04 L556.30 21.86 L556.80 24.37 L557.30 25.14 L557.80 25.67 L558.30 26.43 L558.80 24.76 L559.30 26.24 L559.80 25.62 L560.30 23.56 L560.80 24.11 L561.30 22.39 L561.80 24.66 L562.30 24.30 L562.80 25.44 L563.30 24.95 L564.00 21.84 L564.50 23.07 L565.00 24.38 L565.50 27.67 L566.00 26.79 L566.50 27.40 L567.00 28.52 L567.50 29.84 L568.00 28.90 L568.50 28.65 L569.00 27.81 L569.50 28.38 L570.00 28.37 L570.50 29.62 L571.00 31.13 L571.50 30.72 L572.00 29.98 L572.50 30.13 L573.00 30.75 L573.50 30.74 L574.00 29.74 L574.50 29.62 L575.00 29.29 L575.50 29.69 L576.00 27.57 L576.50 31.36 L577.00 29.35 L577.50 28.95 L578.00 31.43 L578.50 28.17 L579.00 28.45 L579.50 30.11 L580.00 29.54 L580.50 29.78 L581.00 29.00 L581.50 30.91 L582.00 30.22 L582.50 30.29 L583.00 30.26 L583.50 28.76 L584.00 28.78 L584.50 28.79 L585.00 26.94 L585.50 27.73 L586.00 28.52 L586.50 28.57 L587.00 28.14 L587.50 27.80 L588.00 28.08 L588.50 25.88 L589.00 27.84 L589.50 27.06 L590.00 27.93 L590.50 27.84 L591.00 28.32 L591.50 27.07 L592.00 27.48 L592.50 26.60 L593.00 27.98 L593.50 26.96 L594.00 26.95 L594.50 26.10 L595.00 28.31 L595.50 29.44 L596.00 27.22 L596.50 28.31 L597.00 27.09 L597.50 27.88 L598.00 28.12 L598.50 26.38 L599.00 28.19 L599.50 26.26 L600.00 27.31 L600.50 28.46 L601.00 27.96 L601.50 28.07 L602.00 27.12 L602.50 28.12 L603.00 25.78 L603.50 26.55 L604.00 25.96 L604.50 26.94 L605.00 26.85 L605.50 26.98 L606.00 26.79 L606.50 27.96 L607.00 29.95 L607.50 31.60 L608.00 32.38 L608.50 30.34 L609.00 29.48 L609.50 31.90 L610.00 29.54 L610.50 29.84 L611.00 30.18 L611.50 28.40 L612.00 28.78 L612.50 28.21 L613.00 30.80 L613.50 28.25 L614.00 30.59 L614.50 30.50 L615.00 29.13 L615.50 29.29 L616.00 32.07 L616.50 31.17 L617.00 28.89 L617.50 28.12 L618.00 28.05 L618.50 29.09 L619.00 30.53 L619.50 28.96 L620.00 29.13 L620.50 29.33 L621.00 27.45 L621.50 29.86 L622.00 27.25 L622.50 29.37 L623.00 30.36 L623.50 31.25 L624.00 28.79 L624.50 28.81 L625.00 29.15 L625.50 28.73 L626.00 27.34 L626.50 26.44 L627.00 27.32 L627.50 26.24 L628.00 24.92 L628.50 25.33 L629.00 24.25 L629.50 25.36 L630.00 24.87 L630.50 23.59 L631.00 23.04 L631.50 21.72 L632.00 20.96 L632.50 21.39 L633.00 21.05 L633.50 21.78 L634.00 20.35 L634.50 20.09 L635.00 20.84 L635.50 20.32 L636.00 22.26 L636.50 21.60 L637.00 23.24 L637.50 21.99 L638.00 21.20 L638.50 20.23 L639.00 22.96 L639.50 23.04 L640.00 23.10 L640.50 23.44 L641.00 23.37 L641.50 23.42 L642.00 24.46 L642.43 25.92 L642.87 25.85 L643.30 25.04 L643.80 22.04 L644.30 20.35 L644.80 20.52 L645.30 21.29 L645.77 19.55 L646.23 18.33 L646.70 18.01 L647.13 18.02 L647.57 19.15 L648.00 19.07 L648.50 16.89 L649.00 17.58 L649.50 18.13 L650.00 17.68 L650.50 18.24 L651.00 18.81 L651.50 18.38 L652.00 18.81 L652.50 19.16 L653.00 17.39 L653.50 17.68 L654.00 19.38 L654.50 17.88 L655.00 19.98 L655.50 20.30 L656.00 20.31 L656.50 19.19 L657.00 20.55 L657.50 21.73 L658.00 19.20 L658.50 18.90 L659.00 21.16 L659.50 20.60 L660.00 20.97 L660.50 20.10 L661.00 19.35 L661.50 20.79 L662.00 23.95 L662.50 20.65 L663.00 21.59 L663.50 22.37 L664.00 20.20 L664.50 19.94 L665.00 21.39 L665.50 19.53 L666.00 20.80 L666.50 20.04 L667.00 21.60 L667.50 20.73 L668.00 21.76 L668.50 20.59 L669.00 20.39 L669.50 20.01 L670.00 22.43 L670.50 20.73 L671.00 20.32 L671.50 22.86 L672.00 21.34 L672.50 22.93 L673.00 22.63 L673.50 23.78 L674.00 20.28 L674.50 20.48 L675.00 23.02 L675.50 22.36 L676.00 20.43 L676.50 21.78 L677.00 19.49 L677.50 19.67 L678.00 20.11 L678.43 17.62 L678.87 15.57 L679.30 13.89 L680.00 15.17 L680.50 17.14 L681.00 18.15 L681.50 18.14 L682.00 20.43 L682.50 17.69 L683.00 20.50 L683.50 19.14 L684.00 19.51 L684.50 20.99 L685.00 18.68 L685.50 19.56 L686.00 18.05 L686.50 18.72 L687.00 15.09 L687.50 15.73 L688.00 13.77 L688.50 16.33 L689.00 14.94 L689.50 17.27 L690.00 18.27 L690.50 17.47 L691.00 19.25 L691.50 18.77 L692.00 19.51 L692.50 18.55 L693.00 20.94 L693.50 20.41 L694.00 19.09 L694.50 21.69 L695.00 20.30 L695.50 20.50 L696.00 20.89 L696.50 20.99 L697.00 19.83 L697.50 18.53 L698.00 19.58 L698.50 18.60 L699.00 22.37 L699.50 20.89 L700.00 23.23 L700.50 22.16 L701.00 22.62 L701.50 23.06 L702.00 23.73 L702.50 24.97 L703.00 23.83 L703.50 23.82 L704.00 23.39 L704.50 24.54 L705.00 25.23 L705.50 25.40 L706.00 23.97 L706.50 24.33 L707.00 21.38 L707.50 20.41 L708.00 20.17 L708.43 20.95 L708.87 18.85 L709.30 17.13 L709.80 17.17 L710.30 18.98 L710.80 19.04 L711.30 18.28 L711.80 20.49 L712.30 19.16 L712.80 20.85 L713.30 21.60 L713.80 20.23 L714.30 19.80 L714.80 20.13 L715.30 19.17 L716.00 23.11 L716.50 21.54 L717.00 21.81 L717.50 21.11 L718.00 21.46 L718.50 21.35 L719.00 22.80 L719.50 22.11 L720.00 22.33 L720.50 20.13 L721.00 20.14 L721.50 19.41 L722.00 20.67 L722.50 19.89 L723.00 21.81 L723.50 19.15 L724.00 22.30 L724.50 20.42 L725.00 19.93 L725.50 20.08 L726.00 20.28 L726.50 20.88 L727.00 19.35 L727.50 19.18 L728.00 19.41 L728.50 19.27 L729.00 17.70 L729.50 18.65 L730.00 18.89 L730.50 18.18 L731.00 21.25 L731.50 17.97 L732.00 21.24 L732.50 19.38 L733.00 18.59 L733.50 19.33 L734.00 18.93 L734.50 17.56 L735.00 16.05 L735.50 18.31 L736.00 16.81 L736.43 17.08 L736.87 15.45 L737.30 15.34 L737.77 18.48 L738.23 17.71 L738.70 18.91 L739.13 16.37 L739.57 20.42 L740.00 20.32 L740.43 19.21 L740.87 21.72 L741.30 22.40 L742.00 20.69" fill="none" stroke="#f04452" stroke-width="1.2" stroke-linejoin="round" stroke-opacity="1.0"/>
<rect x="424.60" y="7.00" width="337.20" height="85.70" fill="none" stroke="#606060" stroke-width="1.3"/>
<line x1="420.00" y1="88.75" x2="424.60" y2="88.75" stroke="#3a3a3a" stroke-width="1.1"/>
<text x="417.90" y="91.85" font-size="9.0" text-anchor="end" font-weight="normal" font-style="normal" fill="#333" stroke="#333" >0</text>
<line x1="420.00" y1="58.50" x2="424.60" y2="58.50" stroke="#3a3a3a" stroke-width="1.1"/>
<text x="417.90" y="61.60" font-size="9.0" text-anchor="end" font-weight="normal" font-style="normal" fill="#333" stroke="#333" >2</text>
<line x1="420.00" y1="28.25" x2="424.60" y2="28.25" stroke="#3a3a3a" stroke-width="1.1"/>
<text x="417.90" y="31.35" font-size="9.0" text-anchor="end" font-weight="normal" font-style="normal" fill="#333" stroke="#333" >4</text>
<line x1="440.00" y1="92.70" x2="440.00" y2="97.70" stroke="#3a3a3a" stroke-width="1.1"/>
<text x="440.00" y="106.60" font-size="9.0" text-anchor="middle" font-weight="normal" font-style="normal" fill="#333" stroke="#333" >0</text>
<line x1="476.73" y1="92.70" x2="476.73" y2="97.70" stroke="#3a3a3a" stroke-width="1.1"/>
<line x1="513.46" y1="92.70" x2="513.46" y2="97.70" stroke="#3a3a3a" stroke-width="1.1"/>
<text x="513.46" y="106.60" font-size="9.0" text-anchor="middle" font-weight="normal" font-style="normal" fill="#333" stroke="#333" >200</text>
<line x1="550.19" y1="92.70" x2="550.19" y2="97.70" stroke="#3a3a3a" stroke-width="1.1"/>
<line x1="586.92" y1="92.70" x2="586.92" y2="97.70" stroke="#3a3a3a" stroke-width="1.1"/>
<text x="586.92" y="106.60" font-size="9.0" text-anchor="middle" font-weight="normal" font-style="normal" fill="#333" stroke="#333" >400</text>
<line x1="623.65" y1="92.70" x2="623.65" y2="97.70" stroke="#3a3a3a" stroke-width="1.1"/>
<line x1="660.38" y1="92.70" x2="660.38" y2="97.70" stroke="#3a3a3a" stroke-width="1.1"/>
<text x="660.38" y="106.60" font-size="9.0" text-anchor="middle" font-weight="normal" font-style="normal" fill="#333" stroke="#333" >600</text>
<line x1="697.11" y1="92.70" x2="697.11" y2="97.70" stroke="#3a3a3a" stroke-width="1.1"/>
<line x1="733.84" y1="92.70" x2="733.84" y2="97.70" stroke="#3a3a3a" stroke-width="1.1"/>
<text x="733.84" y="106.60" font-size="9.0" text-anchor="middle" font-weight="normal" font-style="normal" fill="#333" stroke="#333" >800</text>
<text x="395.40" y="11.00" font-size="14" text-anchor="start" font-weight="bold" font-style="normal" fill="#111" stroke="#111" >b</text>
<text x="594.00" y="119.80" font-size="10.3" text-anchor="middle" fill="#222" stroke="#222"><tspan font-style="italic">Time</tspan> (ns)</text>
<text transform="translate(405.80 49.70) rotate(-90)" font-size="10.3" text-anchor="middle" fill="#222" stroke="#222"><tspan font-style="italic">RMSD</tspan> (Å)</text>
<line x1="625.60" y1="80.60" x2="636.30" y2="80.60" stroke="#3348b0" stroke-width="2.0"/>
<text x="640.60" y="83.00" font-size="9.1" text-anchor="start" font-weight="normal" font-style="normal" fill="#333" stroke="#333" >CTR1</text>
<line x1="685.50" y1="80.60" x2="696.20" y2="80.60" stroke="#f04452" stroke-width="2.0"/>
<text x="700.50" y="83.00" font-size="9.1" text-anchor="start" font-weight="normal" font-style="normal" fill="#333" stroke="#333" >CTR1(M150L)</text>
<rect x="81.00" y="148.30" width="27.90" height="98.50" fill="#d2d3d5"/>
<rect x="185.00" y="148.30" width="28.10" height="98.50" fill="#d2d3d5"/>
<rect x="288.50" y="148.30" width="28.00" height="98.50" fill="#d2d3d5"/>
<rect x="141.10" y="148.30" width="8.10" height="98.50" fill="#e7e8ea"/>
<rect x="243.70" y="148.30" width="8.10" height="98.50" fill="#e7e8ea"/>
<rect x="347.50" y="148.30" width="7.50" height="98.50" fill="#e7e8ea"/>
<path d="M46.50 219.37 L47.00 223.88 L47.80 232.90 L48.50 233.30 L49.00 231.69 L49.50 232.80 L50.20 233.17 L50.70 228.29 L51.20 224.84 L52.00 226.34 L52.50 231.52 L53.00 234.49 L53.50 232.22 L54.00 229.88 L54.50 230.69 L55.00 230.36 L55.50 230.63 L56.00 229.63 L56.50 226.73 L57.00 225.09 L57.50 224.64 L58.00 227.95 L58.50 230.33 L59.00 231.39 L59.50 231.89 L60.00 231.63 L60.50 231.46 L61.00 232.28 L61.50 232.76 L62.00 233.44 L62.50 236.09 L63.00 233.91 L63.50 235.69 L64.00 235.07 L64.50 236.06 L65.00 235.48 L65.50 235.13 L66.00 236.25 L66.75 236.76 L67.50 235.37 L68.25 237.46 L69.00 236.64 L69.50 237.30 L70.00 235.71 L70.50 236.69 L71.00 238.89 L71.50 239.60 L72.00 237.56 L72.50 236.44 L73.00 233.58 L73.50 227.43 L74.25 233.03 L75.00 237.70 L75.67 237.97 L76.33 238.12 L77.00 238.03 L77.60 235.90 L78.20 233.61 L78.80 232.84 L79.40 231.66 L80.00 229.71 L80.62 227.90 L81.25 228.22 L81.88 225.85 L82.50 225.67 L83.07 227.65 L83.63 229.08 L84.20 229.83 L84.73 229.02 L85.27 228.23 L85.80 227.37 L86.37 224.24 L86.93 220.26 L87.50 216.56 L88.07 218.42 L88.63 220.51 L89.20 223.84 L89.73 221.52 L90.27 221.66 L90.80 219.08 L91.37 220.74 L91.93 221.91 L92.50 222.34 L93.07 221.93 L93.63 221.35 L94.20 218.64 L94.73 216.85 L95.27 215.08 L95.80 213.59 L96.37 212.33 L96.93 209.81 L97.50 207.03 L98.10 204.29 L98.70 200.42 L99.35 203.09 L100.00 201.57 L100.50 200.45 L101.00 200.42 L101.80 209.87 L102.50 202.62 L103.10 208.35 L103.70 213.63 L104.35 215.29 L105.00 215.44 L105.60 220.22 L106.20 220.31 L106.75 224.73 L107.30 230.45 L107.80 231.26 L108.30 233.54 L108.90 234.68 L109.50 236.28 L110.00 236.56 L110.50 236.50 L111.17 234.27 L111.83 234.47 L112.50 232.88 L113.00 234.45 L113.50 236.38 L114.25 237.13 L115.00 236.80 L115.67 238.46 L116.33 238.24 L117.00 238.43 L117.67 240.27 L118.33 239.99 L119.00 240.31 L119.75 238.95 L120.50 237.60 L121.15 235.98 L121.80 232.77 L122.40 236.56 L123.00 238.60 L123.75 237.76 L124.50 238.87 L125.17 238.19 L125.83 237.01 L126.50 235.92 L127.25 237.59 L128.00 238.93 L128.67 237.94 L129.33 238.77 L130.00 238.66 L130.75 240.59 L131.50 240.62 L132.12 239.66 L132.75 240.24 L133.38 239.81 L134.00 239.67 L134.67 238.53 L135.33 237.53 L136.00 237.88 L136.67 238.84 L137.33 239.65 L138.00 238.99 L138.65 237.52 L139.30 235.97 L139.87 234.90 L140.43 231.97 L141.00 230.77 L141.57 228.45 L142.13 226.75 L142.70 227.46 L143.23 222.55 L143.77 221.22 L144.30 217.90 L145.20 219.56 L145.75 212.50 L146.30 204.96 L146.80 199.46 L147.30 195.94 L147.80 200.90 L148.30 204.98 L148.80 215.84 L149.30 229.72 L150.00 232.60 L150.70 236.13 L151.25 234.50 L151.80 231.90 L152.37 225.09 L152.93 215.72 L153.50 208.23 L154.10 213.71 L154.70 220.73 L155.20 225.35 L155.70 231.11 L156.23 230.82 L156.77 232.99 L157.30 231.96 L157.97 232.84 L158.63 232.36 L159.30 231.16 L160.00 231.29 L160.55 232.51 L161.10 230.25 L161.65 230.48 L162.20 227.77 L162.75 229.55 L163.30 230.52 L163.85 231.28 L164.40 232.12 L164.93 234.54 L165.47 233.63 L166.00 234.09 L166.57 237.04 L167.13 237.52 L167.70 236.64 L168.27 237.71 L168.83 237.38 L169.40 238.18 L169.93 239.84 L170.47 239.37 L171.00 239.63 L171.67 241.12 L172.33 240.43 L173.00 240.89 L173.75 238.47 L174.50 237.06 L175.00 236.33 L175.50 234.47 L176.00 234.29 L176.50 236.47 L177.00 239.13 L177.57 239.46 L178.13 239.30 L178.70 240.63 L179.27 239.68 L179.83 239.38 L180.40 240.53 L180.95 238.22 L181.50 237.08 L182.03 237.07 L182.57 236.88 L183.10 236.21 L183.63 236.60 L184.17 235.87 L184.70 234.88 L185.30 234.68 L185.90 234.48 L186.40 234.82 L186.90 232.34 L187.50 230.64 L188.10 230.39 L188.65 227.29 L189.20 227.22 L189.95 219.26 L190.70 213.75 L191.35 222.66 L192.00 230.94 L192.60 234.72 L193.20 235.37 L193.73 231.86 L194.27 229.78 L194.80 228.33 L195.43 224.60 L196.05 222.08 L196.68 221.06 L197.30 217.38 L197.93 215.24 L198.55 212.83 L199.18 212.69 L199.80 208.51 L200.37 207.96 L200.93 204.81 L201.50 201.05 L202.07 199.58 L202.63 198.94 L203.20 198.71 L204.00 193.44 L204.65 197.28 L205.30 200.82 L205.97 204.78 L206.63 206.46 L207.30 209.95 L207.87 212.57 L208.43 216.05 L209.00 219.90 L209.50 227.49 L210.00 234.84 L210.57 235.23 L211.13 233.96 L211.70 233.98 L212.23 235.38 L212.77 235.15 L213.30 237.21 L213.87 235.95 L214.43 238.16 L215.00 239.06 L215.53 239.89 L216.07 239.57 L216.60 238.98 L217.17 239.49 L217.73 239.46 L218.30 239.32 L218.83 239.68 L219.37 238.63 L219.90 238.99 L220.47 239.21 L221.03 240.08 L221.60 238.79 L222.13 240.43 L222.67 240.45 L223.20 240.33 L223.77 240.49 L224.33 239.73 L224.90 239.30 L225.43 239.51 L225.97 238.71 L226.50 240.57 L227.07 240.76 L227.63 237.96 L228.20 238.98 L228.73 239.81 L229.27 240.40 L229.80 240.94 L230.37 239.19 L230.93 240.32 L231.50 240.59 L232.03 240.87 L232.57 240.63 L233.10 241.93 L233.67 241.14 L234.23 243.40 L234.80 242.61 L235.33 242.69 L235.87 239.96 L236.40 241.64 L236.97 239.90 L237.53 239.92 L238.10 241.47 L238.63 240.62 L239.17 241.09 L239.70 239.61 L240.27 240.33 L240.83 239.03 L241.40 238.52 L241.93 238.05 L242.47 236.67 L243.00 237.81 L243.57 236.20 L244.13 235.98 L244.70 234.67 L245.40 230.49 L246.10 226.71 L246.75 222.35 L247.40 215.94 L247.95 209.74 L248.50 205.56 L249.20 201.30 L249.65 211.42 L250.10 222.64 L250.55 229.29 L251.00 236.65 L251.50 229.89 L252.00 227.03 L252.55 229.01 L253.10 229.34 L253.65 232.73 L254.20 233.58 L254.75 233.00 L255.30 229.51 L255.87 232.28 L256.43 232.48 L257.00 235.25 L257.53 237.11 L258.07 236.00 L258.60 238.26 L259.17 236.83 L259.73 234.99 L260.30 236.25 L260.83 234.08 L261.37 234.11 L261.90 233.42 L262.47 234.42 L263.03 234.50 L263.60 232.38 L264.13 234.96 L264.67 234.51 L265.20 236.59 L265.75 237.20 L266.30 236.04 L266.85 236.39 L267.40 237.38 L267.95 236.63 L268.50 238.32 L269.05 239.25 L269.60 239.75 L270.15 237.38 L270.70 237.40 L271.25 239.01 L271.80 239.45 L272.37 237.49 L272.93 239.33 L273.50 238.33 L274.03 238.48 L274.57 239.99 L275.10 238.91 L275.67 237.74 L276.23 237.44 L276.80 237.38 L277.33 237.41 L277.87 237.49 L278.40 238.52 L278.97 237.78 L279.53 238.25 L280.10 236.19 L280.63 234.75 L281.17 235.37 L281.70 235.93 L282.27 234.85 L282.83 233.99 L283.40 234.68 L283.93 232.59 L284.47 231.62 L285.00 231.36 L285.90 224.76 L286.70 219.66 L287.25 223.80 L287.80 226.14 L288.35 225.73 L288.90 228.20 L289.35 228.25 L289.80 227.45 L290.37 225.56 L290.93 222.04 L291.50 220.48 L292.07 220.30 L292.63 223.79 L293.20 223.96 L293.73 223.79 L294.27 224.93 L294.80 225.48 L295.37 224.83 L295.93 225.78 L296.50 225.97 L297.07 223.22 L297.63 220.79 L298.20 219.37 L298.73 217.34 L299.27 216.73 L299.80 215.26 L300.37 212.96 L300.93 210.32 L301.50 210.64 L302.07 209.25 L302.63 206.65 L303.20 207.86 L303.85 204.03 L304.50 199.20 L305.30 185.95 L306.20 174.63 L307.00 191.86 L307.30 201.10 L308.00 207.36 L308.70 212.33 L309.37 216.06 L310.03 219.68 L310.70 224.25 L311.35 227.89 L312.00 229.64 L312.55 231.25 L313.10 232.57 L313.67 234.07 L314.23 235.67 L314.80 234.85 L315.33 237.00 L315.87 237.67 L316.40 236.80 L316.97 237.83 L317.53 239.12 L318.10 237.97 L318.63 239.05 L319.17 239.72 L319.70 240.17 L320.27 238.57 L320.83 240.20 L321.40 237.93 L321.93 240.79 L322.47 241.74 L323.00 241.47 L323.57 239.72 L324.13 238.84 L324.70 239.60 L325.23 239.64 L325.77 237.60 L326.30 239.34 L326.87 239.57 L327.43 240.58 L328.00 239.92 L328.53 237.21 L329.07 240.12 L329.60 240.33 L330.17 239.42 L330.73 240.94 L331.30 240.40 L331.83 240.69 L332.37 240.61 L332.90 239.74 L333.47 241.12 L334.03 240.27 L334.60 242.25 L335.13 241.52 L335.67 241.68 L336.20 240.07 L336.77 241.37 L337.33 242.27 L337.90 240.33 L338.43 240.50 L338.97 242.01 L339.50 241.62 L340.07 241.60 L340.63 241.21 L341.20 240.17 L341.73 240.56 L342.27 239.41 L342.80 237.73 L343.37 237.88 L343.93 239.30 L344.50 238.41 L345.03 238.08 L345.57 236.62 L346.10 236.57 L346.65 234.44 L347.20 233.04 L347.85 229.71 L348.50 226.67 L349.10 228.20 L349.70 231.51 L350.35 228.14 L351.00 227.95 L351.80 229.01 L352.70 239.09 L353.00 238.98" fill="none" stroke="#f04452" stroke-width="1.15" stroke-linejoin="round" stroke-opacity="1.0"/>
<path d="M46.50 220.05 L47.00 225.01 L47.80 235.04 L48.50 238.21 L49.00 237.19 L49.50 233.59 L50.20 236.84 L50.70 231.14 L51.20 225.65 L52.00 227.72 L52.50 229.82 L53.00 233.91 L53.50 234.08 L54.00 230.76 L54.50 230.89 L55.00 232.50 L55.50 232.03 L56.00 232.24 L56.50 232.12 L57.00 229.30 L57.50 231.42 L58.00 230.64 L58.50 232.14 L59.00 234.12 L59.50 234.42 L60.00 233.23 L60.50 235.41 L61.00 234.97 L61.50 235.18 L62.00 235.27 L62.50 237.71 L63.00 237.35 L63.50 238.78 L64.00 239.76 L64.50 238.82 L65.00 240.25 L65.50 240.31 L66.00 240.56 L66.75 241.05 L67.50 241.66 L68.25 239.95 L69.00 239.59 L69.50 239.60 L70.00 239.02 L70.50 239.85 L71.00 241.28 L71.50 240.35 L72.00 241.60 L72.50 239.95 L73.00 237.99 L73.50 236.09 L74.25 236.84 L75.00 240.74 L75.67 239.01 L76.33 239.96 L77.00 240.59 L77.60 239.00 L78.20 238.23 L78.80 236.04 L79.40 235.63 L80.00 232.15 L80.66 231.32 L81.32 233.13 L81.98 234.15 L82.64 232.79 L83.30 231.83 L83.92 230.92 L84.55 230.51 L85.17 229.73 L85.80 228.89 L86.42 227.74 L87.05 224.54 L87.67 225.72 L88.30 223.66 L88.87 223.94 L89.43 225.07 L90.00 223.01 L90.57 224.07 L91.13 224.34 L91.70 224.14 L92.23 224.52 L92.77 224.46 L93.30 222.22 L93.87 220.29 L94.43 218.83 L95.00 217.55 L95.57 216.70 L96.13 213.52 L96.70 210.72 L97.23 206.84 L97.77 203.86 L98.30 200.90 L98.90 198.45 L99.50 191.74 L100.15 195.66 L100.80 198.80 L101.30 201.89 L101.80 201.28 L102.40 198.87 L103.00 198.09 L103.50 196.89 L104.00 194.19 L104.70 198.56 L105.50 213.18 L106.30 223.64 L106.80 225.70 L107.30 231.18 L107.80 232.21 L108.30 235.72 L108.90 234.69 L109.50 237.13 L110.00 235.70 L110.50 237.28 L111.00 236.99 L111.50 237.89 L112.00 236.74 L112.50 235.22 L113.00 239.38 L113.50 239.11 L114.00 239.44 L114.50 239.17 L115.00 238.81 L115.50 240.29 L116.00 239.27 L116.50 238.34 L117.00 240.19 L117.50 239.16 L118.00 238.89 L118.50 238.89 L119.00 240.25 L119.50 239.43 L120.00 240.97 L120.50 238.52 L121.00 238.05 L121.50 237.94 L122.00 237.12 L122.50 239.37 L123.00 238.06 L123.50 240.22 L124.00 239.25 L124.50 240.39 L125.00 239.85 L125.50 238.08 L126.00 236.54 L126.50 233.44 L127.00 234.23 L127.50 236.92 L128.00 237.75 L128.50 241.67 L129.25 240.61 L130.00 239.45 L130.75 241.44 L131.50 241.12 L132.25 241.32 L133.00 241.22 L133.67 241.92 L134.33 240.18 L135.00 240.37 L135.67 240.95 L136.33 239.13 L137.00 238.71 L137.67 238.97 L138.33 239.72 L139.00 239.73 L139.30 237.25 L139.87 237.12 L140.43 235.30 L141.00 236.67 L141.57 233.63 L142.13 232.88 L142.70 233.11 L143.23 230.59 L143.77 226.21 L144.30 225.20 L144.87 221.18 L145.43 217.20 L146.00 210.34 L146.65 206.13 L147.30 204.10 L147.90 210.47 L148.50 216.38 L149.10 225.46 L149.70 232.10 L150.35 233.90 L151.00 233.98 L151.57 230.38 L152.13 227.47 L152.70 223.70 L153.50 220.67 L154.10 224.58 L154.70 229.95 L155.35 227.22 L156.00 227.25 L156.57 225.60 L157.13 225.89 L157.70 226.38 L158.35 226.78 L159.00 230.59 L159.50 228.64 L160.00 226.15 L160.55 227.52 L161.10 230.30 L161.65 226.55 L162.20 223.82 L162.75 226.30 L163.30 229.49 L163.85 230.41 L164.40 230.24 L164.93 232.40 L165.47 233.10 L166.00 235.79 L166.57 234.70 L167.13 236.17 L167.70 237.32 L168.27 237.58 L168.83 236.43 L169.40 237.75 L169.93 239.14 L170.47 240.11 L171.00 241.14 L171.67 239.56 L172.33 240.23 L173.00 240.90 L173.75 238.69 L174.50 237.47 L175.00 231.74 L175.50 226.63 L176.00 232.16 L176.50 238.30 L177.00 238.49 L177.60 239.22 L178.15 237.60 L178.70 235.21 L179.25 237.14 L179.80 238.01 L180.35 236.74 L180.90 234.20 L181.45 235.95 L182.00 235.80 L182.55 234.46 L183.10 233.97 L183.65 231.61 L184.20 233.77 L184.75 229.94 L185.30 226.78 L185.85 228.90 L186.40 228.26 L186.95 227.85 L187.50 225.61 L188.05 227.62 L188.60 225.41 L189.00 224.41 L189.57 223.53 L190.13 225.95 L190.70 228.32 L191.23 226.65 L191.77 228.70 L192.30 229.35 L192.87 225.44 L193.43 225.47 L194.00 223.42 L194.57 222.66 L195.13 219.18 L195.70 218.06 L196.23 217.21 L196.77 215.79 L197.30 213.27 L197.87 213.67 L198.43 215.88 L199.00 213.66 L199.57 211.35 L200.13 208.86 L200.70 207.45 L201.23 208.28 L201.77 207.44 L202.30 204.96 L202.87 203.54 L203.43 202.16 L204.00 200.75 L204.57 203.40 L205.13 204.84 L205.70 205.58 L206.23 209.40 L206.77 211.25 L207.30 215.60 L207.87 218.93 L208.43 221.21 L209.00 222.21 L209.50 225.89 L210.00 232.48 L210.55 232.42 L211.10 234.31 L211.65 232.86 L212.20 232.82 L212.75 234.37 L213.30 235.00 L213.87 236.73 L214.43 235.09 L215.00 235.90 L215.50 236.03 L216.00 234.95 L216.60 236.17 L217.20 239.10 L217.75 238.99 L218.30 238.45 L218.83 237.90 L219.37 238.57 L219.90 239.36 L220.47 238.70 L221.03 238.81 L221.60 240.36 L222.13 239.37 L222.67 238.99 L223.20 238.37 L223.75 236.98 L224.30 231.97 L224.85 236.74 L225.40 239.27 L225.95 236.77 L226.50 235.19 L227.05 237.05 L227.60 240.05 L228.15 239.50 L228.70 238.45 L229.25 238.42 L229.80 238.24 L230.35 236.91 L230.90 238.45 L231.45 236.32 L232.00 236.71 L232.55 237.94 L233.10 237.73 L233.67 239.55 L234.23 238.21 L234.80 241.03 L235.33 238.46 L235.87 241.67 L236.40 240.28 L236.97 240.60 L237.53 239.65 L238.10 239.68 L238.63 240.18 L239.17 241.72 L239.70 241.76 L240.27 239.63 L240.83 240.61 L241.40 239.16 L241.93 239.21 L242.47 235.93 L243.00 235.93 L243.57 235.27 L244.13 234.15 L244.70 233.85 L245.40 232.16 L246.10 231.46 L246.75 227.19 L247.40 223.02 L247.95 215.71 L248.50 209.86 L248.95 208.70 L249.40 207.96 L249.85 213.19 L250.30 218.06 L250.95 225.34 L251.60 232.16 L252.00 233.04 L252.55 231.80 L253.10 231.87 L253.65 233.53 L254.20 235.99 L254.75 230.70 L255.30 227.77 L255.85 231.02 L256.40 232.92 L256.95 233.58 L257.50 235.45 L258.05 236.02 L258.60 236.39 L259.15 236.01 L259.70 233.09 L260.25 232.56 L260.80 231.72 L261.35 230.83 L261.90 230.12 L262.45 231.60 L263.00 233.69 L263.55 233.22 L264.10 234.61 L264.67 235.32 L265.23 235.71 L265.80 235.42 L266.33 235.08 L266.87 237.67 L267.40 238.21 L267.97 237.66 L268.53 237.10 L269.10 236.77 L269.63 238.23 L270.17 238.40 L270.70 238.45 L271.27 238.43 L271.83 240.97 L272.40 238.86 L272.93 241.29 L273.47 242.11 L274.00 242.58 L274.57 241.70 L275.13 242.58 L275.70 239.85 L276.23 239.16 L276.77 239.68 L277.30 240.28 L277.87 239.89 L278.43 239.17 L279.00 238.14 L279.53 236.52 L280.07 235.60 L280.60 235.90 L281.15 235.43 L281.70 233.90 L282.25 234.43 L282.80 234.15 L283.35 234.16 L283.90 233.38 L284.00 234.33 L284.50 235.71 L285.00 233.47 L285.55 230.03 L286.10 226.80 L286.65 227.80 L287.20 226.68 L287.65 223.81 L288.10 222.54 L289.00 219.87 L289.57 222.69 L290.13 222.51 L290.70 225.63 L291.23 222.17 L291.77 218.97 L292.30 215.93 L292.87 215.84 L293.43 214.34 L294.00 213.06 L294.57 210.07 L295.13 208.76 L295.70 209.27 L296.50 213.80 L297.07 210.06 L297.63 207.52 L298.20 203.93 L298.73 203.25 L299.27 202.19 L299.80 201.11 L300.37 201.51 L300.93 199.50 L301.50 197.12 L302.00 195.21 L302.50 191.16 L303.25 190.20 L304.00 187.15 L304.50 188.28 L305.00 190.53 L305.75 198.23 L306.50 203.24 L307.07 208.26 L307.63 211.85 L308.20 214.78 L308.73 215.23 L309.27 216.39 L309.80 216.34 L310.37 221.20 L310.93 223.71 L311.50 227.80 L312.00 231.37 L312.55 233.29 L313.10 234.84 L313.65 235.39 L314.20 235.42 L314.77 236.76 L315.33 235.65 L315.90 236.19 L316.43 237.81 L316.97 238.55 L317.50 237.98 L318.07 237.69 L318.63 238.48 L319.20 238.41 L319.73 239.11 L320.27 238.38 L320.80 239.02 L321.37 240.40 L321.93 239.87 L322.50 239.46 L323.03 239.08 L323.57 239.44 L324.10 239.21 L324.67 237.20 L325.23 236.88 L325.80 234.50 L326.35 237.16 L326.90 238.66 L327.43 238.56 L327.97 237.23 L328.50 236.94 L329.07 235.45 L329.63 233.52 L330.20 233.81 L330.75 233.43 L331.30 237.34 L331.85 236.89 L332.40 237.94 L332.93 237.74 L333.47 238.26 L334.00 238.48 L334.57 238.00 L335.13 238.78 L335.70 237.70 L336.23 238.16 L336.77 240.27 L337.30 241.65 L337.87 239.70 L338.43 240.47 L339.00 239.99 L339.53 239.62 L340.07 241.70 L340.60 240.33 L341.17 239.90 L341.73 240.48 L342.30 239.18 L342.83 240.75 L343.37 239.66 L343.90 238.60 L344.47 237.60 L345.03 237.10 L345.60 237.92 L346.13 235.18 L346.67 236.52 L347.20 234.79 L348.00 224.55 L348.65 225.52 L349.30 227.43 L350.00 221.51 L350.70 213.46 L351.50 209.01 L352.20 224.42 L352.70 227.93 L353.20 235.04" fill="none" stroke="#3348b0" stroke-width="1.15" stroke-linejoin="round" stroke-opacity="1.0"/>
<rect x="31.50" y="148.30" width="337.20" height="98.50" fill="none" stroke="#606060" stroke-width="1.3"/>
<line x1="26.70" y1="227.26" x2="31.50" y2="227.26" stroke="#3a3a3a" stroke-width="1.1"/>
<text x="24.70" y="230.36" font-size="9.0" text-anchor="end" font-weight="normal" font-style="normal" fill="#333" stroke="#333" >2</text>
<line x1="26.70" y1="204.72" x2="31.50" y2="204.72" stroke="#3a3a3a" stroke-width="1.1"/>
<text x="24.70" y="207.82" font-size="9.0" text-anchor="end" font-weight="normal" font-style="normal" fill="#333" stroke="#333" >4</text>
<line x1="26.70" y1="182.18" x2="31.50" y2="182.18" stroke="#3a3a3a" stroke-width="1.1"/>
<text x="24.70" y="185.28" font-size="9.0" text-anchor="end" font-weight="normal" font-style="normal" fill="#333" stroke="#333" >6</text>
<line x1="26.70" y1="159.64" x2="31.50" y2="159.64" stroke="#3a3a3a" stroke-width="1.1"/>
<text x="24.70" y="162.74" font-size="9.0" text-anchor="end" font-weight="normal" font-style="normal" fill="#333" stroke="#333" >8</text>
<line x1="46.80" y1="246.80" x2="46.80" y2="252.60" stroke="#3a3a3a" stroke-width="1.1"/>
<text x="46.80" y="262.90" font-size="9.0" text-anchor="middle" font-weight="normal" font-style="normal" fill="#333" stroke="#333" >50</text>
<line x1="54.17" y1="246.80" x2="54.17" y2="250.70" stroke="#555" stroke-width="1.1"/>
<line x1="61.54" y1="246.80" x2="61.54" y2="250.70" stroke="#555" stroke-width="1.1"/>
<line x1="68.91" y1="246.80" x2="68.91" y2="250.70" stroke="#555" stroke-width="1.1"/>
<line x1="76.28" y1="246.80" x2="76.28" y2="250.70" stroke="#555" stroke-width="1.1"/>
<line x1="83.65" y1="246.80" x2="83.65" y2="252.60" stroke="#3a3a3a" stroke-width="1.1"/>
<text x="83.65" y="262.90" font-size="9.0" text-anchor="middle" font-weight="normal" font-style="normal" fill="#333" stroke="#333" >100</text>
<line x1="91.02" y1="246.80" x2="91.02" y2="250.70" stroke="#555" stroke-width="1.1"/>
<line x1="98.39" y1="246.80" x2="98.39" y2="250.70" stroke="#555" stroke-width="1.1"/>
<line x1="105.76" y1="246.80" x2="105.76" y2="250.70" stroke="#555" stroke-width="1.1"/>
<line x1="113.13" y1="246.80" x2="113.13" y2="250.70" stroke="#555" stroke-width="1.1"/>
<line x1="120.50" y1="246.80" x2="120.50" y2="252.60" stroke="#3a3a3a" stroke-width="1.1"/>
<text x="120.50" y="262.90" font-size="9.0" text-anchor="middle" font-weight="normal" font-style="normal" fill="#333" stroke="#333" >150</text>
<line x1="127.87" y1="246.80" x2="127.87" y2="250.70" stroke="#555" stroke-width="1.1"/>
<line x1="135.24" y1="246.80" x2="135.24" y2="250.70" stroke="#555" stroke-width="1.1"/>
<line x1="142.61" y1="246.80" x2="142.61" y2="250.70" stroke="#555" stroke-width="1.1"/>
<line x1="149.90" y1="246.80" x2="149.90" y2="252.60" stroke="#3a3a3a" stroke-width="1.1"/>
<text x="149.90" y="262.90" font-size="9.0" text-anchor="middle" font-weight="normal" font-style="normal" fill="#333" stroke="#333" >50</text>
<line x1="157.27" y1="246.80" x2="157.27" y2="250.70" stroke="#555" stroke-width="1.1"/>
<line x1="164.64" y1="246.80" x2="164.64" y2="250.70" stroke="#555" stroke-width="1.1"/>
<line x1="172.01" y1="246.80" x2="172.01" y2="250.70" stroke="#555" stroke-width="1.1"/>
<line x1="179.38" y1="246.80" x2="179.38" y2="250.70" stroke="#555" stroke-width="1.1"/>
<line x1="186.75" y1="246.80" x2="186.75" y2="252.60" stroke="#3a3a3a" stroke-width="1.1"/>
<text x="186.75" y="262.90" font-size="9.0" text-anchor="middle" font-weight="normal" font-style="normal" fill="#333" stroke="#333" >100</text>
<line x1="194.12" y1="246.80" x2="194.12" y2="250.70" stroke="#555" stroke-width="1.1"/>
<line x1="201.49" y1="246.80" x2="201.49" y2="250.70" stroke="#555" stroke-width="1.1"/>
<line x1="208.86" y1="246.80" x2="208.86" y2="250.70" stroke="#555" stroke-width="1.1"/>
<line x1="216.23" y1="246.80" x2="216.23" y2="250.70" stroke="#555" stroke-width="1.1"/>
<line x1="223.60" y1="246.80" x2="223.60" y2="252.60" stroke="#3a3a3a" stroke-width="1.1"/>
<text x="223.60" y="262.90" font-size="9.0" text-anchor="middle" font-weight="normal" font-style="normal" fill="#333" stroke="#333" >150</text>
<line x1="230.97" y1="246.80" x2="230.97" y2="250.70" stroke="#555" stroke-width="1.1"/>
<line x1="238.34" y1="246.80" x2="238.34" y2="250.70" stroke="#555" stroke-width="1.1"/>
<line x1="245.71" y1="246.80" x2="245.71" y2="250.70" stroke="#555" stroke-width="1.1"/>
<line x1="253.00" y1="246.80" x2="253.00" y2="252.60" stroke="#3a3a3a" stroke-width="1.1"/>
<text x="253.00" y="262.90" font-size="9.0" text-anchor="middle" font-weight="normal" font-style="normal" fill="#333" stroke="#333" >50</text>
<line x1="260.37" y1="246.80" x2="260.37" y2="250.70" stroke="#555" stroke-width="1.1"/>
<line x1="267.74" y1="246.80" x2="267.74" y2="250.70" stroke="#555" stroke-width="1.1"/>
<line x1="275.11" y1="246.80" x2="275.11" y2="250.70" stroke="#555" stroke-width="1.1"/>
<line x1="282.48" y1="246.80" x2="282.48" y2="250.70" stroke="#555" stroke-width="1.1"/>
<line x1="289.85" y1="246.80" x2="289.85" y2="252.60" stroke="#3a3a3a" stroke-width="1.1"/>
<text x="289.85" y="262.90" font-size="9.0" text-anchor="middle" font-weight="normal" font-style="normal" fill="#333" stroke="#333" >100</text>
<line x1="297.22" y1="246.80" x2="297.22" y2="250.70" stroke="#555" stroke-width="1.1"/>
<line x1="304.59" y1="246.80" x2="304.59" y2="250.70" stroke="#555" stroke-width="1.1"/>
<line x1="311.96" y1="246.80" x2="311.96" y2="250.70" stroke="#555" stroke-width="1.1"/>
<line x1="319.33" y1="246.80" x2="319.33" y2="250.70" stroke="#555" stroke-width="1.1"/>
<line x1="326.70" y1="246.80" x2="326.70" y2="252.60" stroke="#3a3a3a" stroke-width="1.1"/>
<text x="326.70" y="262.90" font-size="9.0" text-anchor="middle" font-weight="normal" font-style="normal" fill="#333" stroke="#333" >150</text>
<line x1="334.07" y1="246.80" x2="334.07" y2="250.70" stroke="#555" stroke-width="1.1"/>
<line x1="341.44" y1="246.80" x2="341.44" y2="250.70" stroke="#555" stroke-width="1.1"/>
<line x1="348.81" y1="246.80" x2="348.81" y2="250.70" stroke="#555" stroke-width="1.1"/>
<text x="0.60" y="147.60" font-size="14" text-anchor="start" font-weight="bold" font-style="normal" fill="#111" stroke="#111" >c</text>
<line x1="201.30" y1="156.80" x2="212.60" y2="156.80" stroke="#3348b0" stroke-width="2.0"/>
<text x="215.80" y="159.20" font-size="9.1" text-anchor="start" font-weight="normal" font-style="normal" fill="#333" stroke="#333" >CTR1 + Cu</text>
<line x1="270.00" y1="156.80" x2="280.80" y2="156.80" stroke="#f04452" stroke-width="2.0"/>
<text x="284.80" y="159.20" font-size="9.1" text-anchor="start" font-weight="normal" font-style="normal" fill="#333" stroke="#333" >CTR1(M150L) + Cu</text>
<text x="124.90" y="199.10" font-size="9" text-anchor="middle" font-weight="normal" font-style="normal" fill="#333" stroke="#333" >(M150L)</text>
<text x="225.40" y="199.10" font-size="9" text-anchor="middle" font-weight="normal" font-style="normal" fill="#333" stroke="#333" >(M150L)</text>
<text x="327.70" y="199.10" font-size="9" text-anchor="middle" font-weight="normal" font-style="normal" fill="#333" stroke="#333" >(M150L)</text>
<line x1="122.30" y1="210.30" x2="122.30" y2="222.60" stroke="#aaa" stroke-width="0.8" stroke-dasharray="1 0.7"/>
<path d="M120.30 222.20 L124.30 222.20 L122.30 229.00 Z" fill="#111"/>
<line x1="224.60" y1="210.30" x2="224.60" y2="222.60" stroke="#aaa" stroke-width="0.8" stroke-dasharray="1 0.7"/>
<path d="M222.60 222.20 L226.60 222.20 L224.60 229.00 Z" fill="#111"/>
<line x1="328.10" y1="210.30" x2="328.10" y2="222.60" stroke="#aaa" stroke-width="0.8" stroke-dasharray="1 0.7"/>
<path d="M326.10 222.20 L330.10 222.20 L328.10 229.00 Z" fill="#111"/>
<line x1="43.30" y1="275.00" x2="43.30" y2="282.80" stroke="#333" stroke-width="1.1"/>
<line x1="356.60" y1="275.00" x2="356.60" y2="282.80" stroke="#333" stroke-width="1.1"/>
<line x1="43.30" y1="279.00" x2="66.20" y2="279.00" stroke="#444" stroke-width="1.2"/>
<line x1="123.10" y1="279.00" x2="145.60" y2="279.00" stroke="#444" stroke-width="1.2"/>
<line x1="148.80" y1="279.00" x2="171.30" y2="279.00" stroke="#444" stroke-width="1.2"/>
<line x1="228.10" y1="279.00" x2="250.60" y2="279.00" stroke="#444" stroke-width="1.2"/>
<line x1="254.00" y1="279.00" x2="276.30" y2="279.00" stroke="#444" stroke-width="1.2"/>
<line x1="334.10" y1="279.00" x2="356.60" y2="279.00" stroke="#444" stroke-width="1.2"/>
<text x="94.80" y="282.30" font-size="10.5" text-anchor="middle" font-weight="normal" font-style="normal" fill="#333" stroke="#333" >Subunit A</text>
<text x="199.50" y="282.30" font-size="10.5" text-anchor="middle" font-weight="normal" font-style="normal" fill="#333" stroke="#333" >Subunit B</text>
<text x="305.10" y="282.30" font-size="10.5" text-anchor="middle" font-weight="normal" font-style="normal" fill="#333" stroke="#333" >Subunit C</text>
<text x="198.90" y="300.1" font-size="10.4" text-anchor="middle" font-style="italic" fill="#222" stroke="#222">Residue index</text>
<text transform="translate(12.5 0) rotate(-90)" font-size="10.3" text-anchor="middle" fill="#222" stroke="#222"></text>
<line x1="145.60" y1="275.00" x2="145.60" y2="282.80" stroke="#333" stroke-width="1.1"/>
<line x1="148.80" y1="275.00" x2="148.80" y2="282.80" stroke="#333" stroke-width="1.1"/>
<line x1="250.60" y1="275.00" x2="250.60" y2="282.80" stroke="#333" stroke-width="1.1"/>
<line x1="254.00" y1="275.00" x2="254.00" y2="282.80" stroke="#333" stroke-width="1.1"/>
<text transform="translate(12.5 196.3) rotate(-90)" font-size="10.5" text-anchor="middle" fill="#222" stroke="#222"><tspan font-style="italic">RMSF</tspan> (Å)</text>
<rect x="475.70" y="148.30" width="28.30" height="98.40" fill="#d2d3d5"/>
<rect x="579.10" y="148.30" width="28.10" height="98.40" fill="#d2d3d5"/>
<rect x="682.70" y="148.30" width="27.60" height="98.40" fill="#d2d3d5"/>
<rect x="535.00" y="148.30" width="7.80" height="98.40" fill="#e7e8ea"/>
<rect x="637.50" y="148.30" width="8.00" height="98.40" fill="#e7e8ea"/>
<rect x="740.30" y="148.30" width="8.00" height="98.40" fill="#e7e8ea"/>
<path d="M440.00 231.99 L440.50 234.02 L441.00 236.05 L441.50 233.01 L442.00 230.26 L442.50 231.80 L443.00 236.07 L443.50 233.67 L444.00 232.80 L444.75 232.84 L445.50 231.30 L446.00 234.50 L446.50 235.50 L447.25 234.25 L448.00 232.92 L448.75 232.49 L449.50 230.93 L450.25 231.20 L451.00 230.19 L451.50 231.52 L452.00 234.10 L452.75 233.14 L453.50 235.95 L454.25 236.36 L455.00 235.45 L455.75 236.90 L456.50 237.60 L457.25 237.43 L458.00 238.26 L458.75 238.22 L459.50 238.40 L460.00 239.52 L460.50 235.82 L461.00 237.88 L461.50 237.55 L462.25 238.76 L463.00 238.41 L463.75 237.61 L464.50 238.28 L465.25 238.51 L466.00 236.84 L466.75 235.94 L467.50 232.13 L468.00 234.31 L468.50 234.25 L469.00 234.49 L469.50 235.96 L470.00 236.17 L470.50 233.62 L471.00 234.98 L471.50 234.60 L472.00 232.90 L472.50 233.88 L473.00 233.47 L473.50 233.01 L474.00 232.65 L474.50 232.06 L475.07 227.55 L475.63 222.87 L476.20 219.73 L476.75 222.40 L477.30 224.30 L477.90 225.20 L478.50 228.22 L479.25 224.10 L480.00 222.18 L480.75 217.00 L481.50 211.27 L482.10 210.17 L482.70 209.37 L483.20 211.59 L483.70 213.73 L484.25 215.28 L484.80 215.97 L485.40 216.17 L486.00 216.54 L486.75 215.90 L487.50 216.51 L488.25 212.80 L489.00 211.56 L489.75 209.27 L490.50 209.25 L491.25 208.05 L492.00 206.11 L492.75 205.27 L493.50 204.26 L494.25 200.61 L495.00 198.33 L495.60 195.23 L496.20 192.40 L496.70 197.44 L497.20 201.20 L497.75 203.14 L498.30 205.42 L498.90 209.32 L499.50 215.83 L500.15 219.09 L500.80 225.02 L501.40 225.78 L502.00 226.66 L502.50 227.58 L503.00 230.56 L503.75 232.62 L504.50 234.05 L505.25 232.69 L506.00 234.87 L506.75 232.94 L507.50 234.19 L508.25 236.48 L509.00 235.54 L509.75 236.02 L510.50 236.59 L511.25 237.46 L512.00 237.80 L512.75 237.74 L513.50 236.56 L514.25 237.37 L515.00 236.38 L515.75 234.73 L516.50 233.45 L517.00 233.19 L517.50 231.84 L518.00 234.68 L518.50 235.65 L519.00 233.47 L519.50 233.13 L520.00 232.19 L520.50 231.86 L521.00 233.77 L521.50 235.69 L522.25 237.06 L523.00 236.82 L523.75 238.08 L524.50 237.59 L525.25 236.74 L526.00 237.85 L526.75 238.13 L527.50 237.91 L528.25 237.22 L529.00 237.82 L529.75 238.14 L530.50 237.11 L531.25 237.85 L532.00 237.64 L532.75 238.33 L533.50 237.13 L534.25 235.57 L535.00 235.57 L535.75 233.76 L536.50 232.23 L537.00 227.74 L537.50 223.40 L538.00 221.65 L538.50 220.51 L539.00 215.84 L539.50 209.69 L540.00 206.59 L540.50 203.40 L541.30 211.34 L541.80 215.85 L542.30 222.09 L542.80 224.69 L543.30 227.91 L544.05 230.51 L544.80 229.16 L545.00 235.23 L545.75 234.24 L546.50 233.31 L547.00 231.77 L547.50 229.76 L548.00 231.46 L548.50 235.16 L549.00 236.06 L549.50 236.09 L550.00 232.91 L550.50 232.76 L551.25 232.48 L552.00 232.86 L552.75 233.48 L553.50 233.14 L554.25 234.88 L555.00 234.06 L555.50 233.65 L556.00 232.53 L556.75 235.21 L557.50 235.55 L558.25 235.95 L559.00 235.56 L559.75 237.66 L560.50 236.58 L561.25 239.10 L562.00 240.25 L562.75 240.40 L563.50 239.96 L564.25 240.96 L565.00 238.47 L565.75 240.85 L566.50 240.28 L567.25 240.65 L568.00 240.21 L568.75 239.34 L569.50 238.54 L570.25 240.25 L571.00 238.63 L571.75 238.09 L572.50 239.67 L573.25 239.06 L574.00 237.09 L574.75 237.43 L575.50 236.36 L576.25 236.26 L577.00 236.95 L577.75 231.95 L578.50 227.68 L579.10 233.00 L579.65 232.71 L580.20 233.56 L580.75 232.56 L581.30 232.55 L581.86 230.71 L582.42 227.73 L582.98 222.21 L583.54 219.04 L584.10 217.61 L584.75 222.69 L585.40 227.28 L586.00 227.34 L586.60 225.25 L587.20 223.83 L587.95 222.73 L588.70 219.23 L589.40 211.83 L590.10 204.69 L590.75 199.16 L591.40 193.16 L592.05 192.71 L592.70 191.12 L593.35 190.99 L594.00 192.14 L594.65 190.64 L595.30 189.40 L596.00 185.46 L596.70 183.37 L597.35 175.39 L598.00 164.63 L598.70 181.01 L599.20 200.83 L599.70 212.51 L600.45 214.88 L601.20 216.62 L601.75 221.96 L602.30 224.16 L602.85 226.14 L603.40 229.55 L604.00 233.96 L604.75 233.56 L605.50 234.37 L606.25 237.12 L607.00 237.21 L607.75 237.35 L608.50 237.23 L609.25 238.36 L610.00 235.44 L610.50 236.21 L611.00 234.38 L611.50 235.87 L612.00 238.53 L612.75 239.55 L613.50 240.97 L614.25 239.09 L615.00 239.60 L615.75 238.35 L616.50 237.50 L617.00 234.54 L617.50 233.39 L618.00 233.97 L618.50 235.39 L619.00 237.36 L619.50 239.43 L620.00 238.34 L620.50 237.11 L621.00 234.40 L621.50 232.97 L622.00 234.41 L622.50 234.21 L623.00 236.99 L623.50 236.86 L624.25 239.74 L625.00 241.31 L625.75 241.95 L626.50 241.45 L627.25 240.44 L628.00 240.76 L628.75 240.83 L629.50 240.78 L630.25 241.37 L631.00 240.54 L631.75 240.69 L632.50 240.53 L633.25 240.74 L634.00 238.79 L634.75 240.07 L635.50 239.74 L636.25 238.75 L637.00 238.27 L637.75 236.43 L638.50 234.90 L639.30 231.02 L640.00 225.84 L640.70 223.33 L641.20 219.03 L641.70 211.74 L642.40 193.45 L643.00 178.88 L643.50 194.50 L644.00 226.40 L644.90 237.80 L645.45 238.28 L646.00 237.89 L646.55 238.54 L647.10 238.68 L647.67 238.32 L648.23 235.84 L648.80 236.42 L649.33 233.93 L649.87 232.55 L650.40 228.35 L650.93 228.91 L651.47 226.04 L652.00 224.93 L652.60 225.69 L653.20 224.28 L653.75 225.76 L654.30 225.30 L654.83 227.82 L655.37 228.33 L655.90 229.62 L656.47 230.65 L657.03 230.77 L657.60 233.41 L658.13 232.52 L658.67 233.01 L659.20 232.41 L659.77 232.99 L660.33 233.96 L660.90 235.64 L661.43 235.10 L661.97 234.70 L662.50 236.32 L663.07 235.22 L663.63 235.82 L664.20 237.52 L664.73 237.20 L665.27 237.59 L665.80 235.86 L666.37 237.33 L666.93 237.08 L667.50 235.21 L668.03 236.73 L668.57 235.73 L669.10 237.17 L669.67 234.17 L670.23 234.23 L670.80 231.73 L671.33 234.58 L671.87 237.30 L672.40 237.05 L672.97 237.89 L673.53 236.08 L674.10 233.86 L674.63 235.99 L675.17 235.10 L675.70 236.41 L676.27 235.44 L676.83 235.62 L677.40 234.88 L677.93 232.57 L678.47 234.21 L679.00 232.82 L679.55 229.37 L680.10 224.49 L681.00 211.87 L681.80 222.61 L682.30 230.73 L682.80 225.72 L683.30 223.17 L683.93 220.03 L684.57 216.46 L685.20 210.59 L685.90 212.72 L686.60 216.44 L687.25 220.52 L687.90 221.67 L688.53 220.09 L689.17 215.68 L689.80 213.16 L690.40 213.85 L691.00 211.94 L691.60 209.94 L692.20 208.78 L692.80 207.85 L693.40 206.27 L694.30 196.73 L695.05 192.09 L695.80 186.43 L696.45 175.27 L697.10 161.58 L698.00 171.26 L698.70 186.95 L699.50 199.41 L700.10 202.58 L700.70 205.97 L701.30 210.90 L701.95 215.37 L702.60 220.95 L703.20 225.46 L703.80 229.41 L704.40 232.16 L705.00 234.33 L705.75 234.93 L706.50 233.90 L707.25 235.70 L708.00 237.89 L708.75 237.81 L709.50 237.51 L710.00 237.99 L710.50 240.43 L711.25 237.73 L712.00 238.71 L712.75 237.09 L713.50 235.78 L714.25 237.29 L715.00 238.21 L715.75 237.03 L716.50 237.47 L717.25 237.47 L718.00 235.92 L718.50 232.10 L719.00 229.29 L719.80 233.01 L720.40 235.10 L721.00 236.34 L721.50 234.17 L722.00 231.66 L722.50 235.15 L723.00 236.42 L723.50 233.65 L724.00 234.68 L724.75 236.32 L725.50 236.95 L726.25 237.74 L727.00 240.56 L727.75 239.64 L728.50 240.10 L729.25 240.50 L730.00 239.60 L730.75 238.68 L731.50 237.64 L732.25 237.49 L733.00 239.10 L733.75 239.10 L734.50 238.52 L735.25 237.13 L736.00 237.00 L736.75 236.52 L737.50 233.61 L738.25 231.54 L739.00 227.97 L739.80 221.14 L740.50 205.26 L741.10 208.53 L741.70 209.34 L742.25 204.21 L742.80 198.66 L743.37 193.10 L743.93 185.53 L744.50 181.18 L745.05 189.86 L745.60 203.63 L746.30 236.97 L747.00 237.40" fill="none" stroke="#f04452" stroke-width="1.15" stroke-linejoin="round" stroke-opacity="1.0"/>
<path d="M440.00 227.03 L440.80 237.97 L441.30 236.56 L441.80 235.39 L442.50 239.67 L443.00 235.62 L443.50 234.02 L444.00 236.21 L444.50 238.61 L445.00 234.14 L445.50 227.73 L446.00 228.83 L446.50 232.05 L447.00 231.27 L447.50 230.89 L448.00 230.48 L448.50 229.49 L449.00 228.75 L449.50 228.17 L450.00 225.58 L450.50 225.89 L451.00 225.40 L451.50 227.18 L452.00 229.61 L452.50 231.38 L453.00 231.20 L453.50 233.89 L454.00 233.96 L454.50 234.45 L455.00 234.31 L455.50 236.75 L456.00 236.33 L456.50 237.49 L457.25 238.24 L458.00 237.58 L458.75 239.29 L459.50 239.58 L460.25 239.77 L461.00 240.26 L461.75 240.93 L462.50 239.22 L463.00 239.08 L463.50 239.88 L464.00 239.07 L464.50 239.12 L465.00 241.00 L465.50 240.58 L466.25 241.10 L467.00 241.14 L467.75 241.15 L468.50 240.93 L469.25 238.42 L470.00 239.04 L470.75 237.43 L471.50 238.49 L472.25 239.19 L473.00 238.57 L473.50 236.08 L474.00 232.16 L474.75 232.33 L475.50 229.44 L476.25 224.14 L477.00 221.47 L477.75 220.33 L478.50 216.81 L479.25 213.69 L480.00 211.65 L480.75 204.87 L481.50 197.72 L482.20 195.08 L482.75 198.50 L483.30 199.86 L483.90 206.39 L484.50 209.69 L485.10 214.85 L485.70 220.86 L486.20 219.91 L486.70 221.33 L487.25 214.46 L487.80 207.12 L488.40 199.37 L489.00 191.18 L489.50 186.72 L490.25 187.70 L491.00 189.15 L491.67 187.58 L492.33 187.81 L493.00 185.72 L493.75 187.11 L494.50 187.42 L495.00 181.02 L495.50 174.64 L496.30 194.79 L497.20 198.17 L497.75 203.61 L498.30 208.26 L498.90 215.64 L499.50 219.31 L500.15 223.89 L500.80 230.10 L501.50 234.37 L502.25 234.53 L503.00 237.21 L503.75 237.41 L504.50 238.74 L505.25 237.92 L506.00 240.53 L506.67 239.46 L507.33 240.87 L508.00 239.31 L508.67 241.07 L509.33 238.91 L510.00 239.76 L510.67 239.98 L511.33 241.38 L512.00 240.69 L512.67 239.46 L513.33 241.51 L514.00 239.11 L514.75 239.44 L515.50 239.17 L516.00 238.53 L516.50 239.73 L517.00 240.01 L517.50 240.37 L518.00 240.70 L518.50 238.15 L519.25 237.42 L520.00 236.98 L520.75 239.29 L521.50 239.43 L522.25 241.99 L523.00 240.55 L523.75 240.81 L524.50 241.44 L525.25 240.11 L526.00 241.85 L526.75 240.32 L527.50 242.24 L528.25 240.77 L529.00 241.40 L529.75 241.09 L530.50 239.54 L531.25 240.55 L532.00 239.98 L532.67 237.83 L533.33 237.59 L534.00 236.51 L534.75 237.22 L535.50 234.41 L536.00 232.46 L536.50 233.21 L537.00 230.30 L537.50 227.85 L538.00 227.47 L538.50 228.36 L539.00 218.35 L539.50 210.28 L540.30 194.11 L541.00 180.26 L541.70 197.80 L542.50 222.29 L543.00 228.16 L543.50 233.30 L544.00 238.83 L544.75 237.48 L545.50 234.43 L546.25 234.02 L547.00 229.20 L547.50 233.20 L548.00 238.18 L548.50 236.31 L549.00 232.60 L549.50 236.19 L550.00 238.58 L550.75 238.07 L551.50 234.68 L552.25 234.20 L553.00 235.89 L553.75 237.12 L554.50 237.90 L555.25 238.03 L556.00 235.70 L556.75 237.11 L557.50 236.80 L558.25 237.65 L559.00 239.19 L559.75 239.87 L560.50 240.62 L561.25 240.01 L562.00 240.88 L562.75 239.06 L563.50 239.98 L564.25 238.45 L565.00 238.85 L565.75 239.12 L566.50 235.91 L567.25 237.40 L568.00 238.17 L568.75 237.37 L569.50 236.88 L570.25 238.81 L571.00 237.42 L571.75 235.59 L572.50 234.76 L573.25 234.56 L574.00 233.57 L574.75 231.98 L575.50 232.89 L576.25 234.36 L577.00 237.82 L577.75 231.20 L578.50 227.15 L579.10 226.95 L579.75 228.73 L580.40 229.11 L581.05 226.14 L581.70 223.17 L582.45 225.20 L583.20 227.28 L583.90 223.22 L584.60 221.41 L585.25 224.56 L585.90 225.57 L586.55 221.69 L587.20 218.21 L587.95 220.43 L588.70 222.02 L589.30 221.39 L589.90 220.01 L590.50 220.62 L591.10 218.73 L591.70 216.05 L592.30 216.23 L592.93 215.40 L593.57 213.94 L594.20 211.21 L594.80 210.89 L595.40 208.68 L596.00 207.02 L596.75 203.43 L597.50 195.94 L598.40 193.09 L599.05 198.27 L599.70 204.12 L600.45 210.24 L601.20 213.61 L601.80 219.51 L602.40 223.58 L602.93 228.07 L603.47 228.34 L604.00 233.20 L604.75 233.01 L605.50 236.13 L606.25 238.63 L607.00 237.35 L607.75 239.35 L608.50 239.94 L609.25 237.67 L610.00 239.33 L610.75 238.13 L611.50 239.30 L612.25 238.32 L613.00 239.70 L613.75 240.20 L614.50 240.13 L615.25 238.23 L616.00 238.16 L616.75 240.19 L617.50 237.78 L618.25 238.16 L619.00 238.35 L619.75 238.61 L620.50 240.06 L621.25 240.86 L622.00 240.01 L622.75 240.18 L623.50 240.40 L624.25 240.31 L625.00 241.79 L625.75 241.62 L626.50 240.74 L627.25 241.75 L628.00 240.78 L628.75 242.08 L629.50 242.64 L630.25 241.91 L631.00 239.91 L631.75 238.51 L632.50 240.03 L633.25 238.68 L634.00 239.27 L634.75 237.93 L635.50 238.01 L636.25 236.96 L637.00 235.00 L637.75 235.37 L638.50 232.39 L639.30 224.85 L640.00 226.96 L640.70 227.85 L641.35 223.71 L642.00 221.29 L642.65 219.38 L643.30 217.03 L643.85 221.88 L644.40 227.94 L645.30 237.33 L646.00 228.22 L646.55 232.22 L647.10 237.66 L647.65 232.96 L648.20 228.88 L648.75 232.34 L649.30 237.32 L649.87 235.50 L650.43 238.73 L651.00 239.72 L651.53 237.09 L652.07 235.38 L652.60 234.68 L653.17 235.84 L653.73 236.04 L654.30 235.74 L654.83 234.74 L655.37 233.58 L655.90 233.24 L656.47 235.85 L657.03 234.46 L657.60 235.58 L658.13 235.64 L658.67 234.28 L659.20 235.94 L659.77 234.83 L660.33 237.88 L660.90 235.68 L661.43 239.04 L661.97 237.81 L662.50 238.46 L663.07 237.89 L663.63 238.29 L664.20 239.16 L664.73 240.86 L665.27 241.04 L665.80 239.40 L666.37 240.38 L666.93 238.93 L667.50 239.59 L668.03 237.44 L668.57 238.56 L669.10 238.84 L669.67 237.95 L670.23 237.87 L670.80 237.57 L671.33 238.94 L671.87 238.65 L672.40 238.46 L672.97 236.54 L673.53 236.08 L674.10 235.58 L674.63 236.21 L675.17 235.60 L675.70 234.63 L676.27 233.78 L676.83 232.46 L677.40 230.79 L677.93 230.86 L678.47 232.25 L679.00 231.33 L679.55 227.76 L680.10 221.91 L680.65 223.26 L681.20 225.33 L681.75 222.94 L682.30 220.45 L682.80 217.76 L683.30 214.61 L683.80 212.00 L684.30 209.58 L684.75 204.63 L685.20 202.47 L686.10 200.95 L687.00 209.59 L687.90 214.57 L688.55 216.11 L689.20 218.25 L689.95 213.61 L690.70 210.83 L691.40 204.58 L692.10 197.99 L692.70 178.62 L693.35 174.97 L694.00 174.26 L694.90 187.61 L695.70 197.95 L696.20 200.06 L697.10 206.68 L698.00 198.83 L698.70 187.65 L699.50 191.23 L700.15 192.73 L700.80 196.80 L701.45 197.10 L702.10 201.88 L702.80 207.81 L703.50 213.39 L704.25 222.71 L705.00 233.79 L705.75 232.30 L706.50 232.97 L707.25 234.32 L708.00 235.77 L708.75 234.78 L709.50 233.46 L710.25 233.92 L711.00 234.49 L711.75 235.20 L712.50 237.14 L713.25 237.51 L714.00 236.83 L714.75 238.38 L715.50 239.11 L716.25 241.26 L717.00 242.62 L717.75 239.79 L718.50 241.18 L719.25 238.94 L720.00 238.31 L720.75 237.68 L721.50 239.02 L722.25 238.45 L723.00 236.88 L723.50 236.69 L724.00 234.86 L724.50 236.98 L725.00 236.11 L725.75 238.36 L726.50 238.47 L727.25 238.28 L728.00 238.24 L728.75 240.03 L729.50 240.41 L730.25 240.55 L731.00 238.47 L731.75 238.06 L732.50 239.47 L733.25 238.31 L734.00 237.22 L734.75 237.38 L735.50 236.50 L736.25 236.40 L737.00 235.93 L737.75 235.21 L738.50 235.99 L739.30 231.84 L739.90 229.24 L740.50 229.53 L741.10 227.68 L741.70 227.22 L742.30 222.92 L742.90 219.06 L743.50 216.34 L744.00 213.67 L744.50 208.32 L745.05 219.74 L745.60 229.73 L746.30 237.97" fill="none" stroke="#3348b0" stroke-width="1.15" stroke-linejoin="round" stroke-opacity="1.0"/>
<rect x="424.60" y="148.30" width="337.20" height="98.40" fill="none" stroke="#606060" stroke-width="1.3"/>
<line x1="420.00" y1="227.26" x2="424.60" y2="227.26" stroke="#3a3a3a" stroke-width="1.1"/>
<text x="417.90" y="230.36" font-size="9.0" text-anchor="end" font-weight="normal" font-style="normal" fill="#333" stroke="#333" >2</text>
<line x1="420.00" y1="204.72" x2="424.60" y2="204.72" stroke="#3a3a3a" stroke-width="1.1"/>
<text x="417.90" y="207.82" font-size="9.0" text-anchor="end" font-weight="normal" font-style="normal" fill="#333" stroke="#333" >4</text>
<line x1="420.00" y1="182.18" x2="424.60" y2="182.18" stroke="#3a3a3a" stroke-width="1.1"/>
<text x="417.90" y="185.28" font-size="9.0" text-anchor="end" font-weight="normal" font-style="normal" fill="#333" stroke="#333" >6</text>
<line x1="420.00" y1="159.64" x2="424.60" y2="159.64" stroke="#3a3a3a" stroke-width="1.1"/>
<text x="417.90" y="162.74" font-size="9.0" text-anchor="end" font-weight="normal" font-style="normal" fill="#333" stroke="#333" >8</text>
<line x1="441.60" y1="246.70" x2="441.60" y2="252.50" stroke="#3a3a3a" stroke-width="1.1"/>
<text x="441.60" y="262.90" font-size="9.0" text-anchor="middle" font-weight="normal" font-style="normal" fill="#333" stroke="#333" >50</text>
<line x1="448.97" y1="246.70" x2="448.97" y2="250.60" stroke="#555" stroke-width="1.1"/>
<line x1="456.34" y1="246.70" x2="456.34" y2="250.60" stroke="#555" stroke-width="1.1"/>
<line x1="463.71" y1="246.70" x2="463.71" y2="250.60" stroke="#555" stroke-width="1.1"/>
<line x1="471.08" y1="246.70" x2="471.08" y2="250.60" stroke="#555" stroke-width="1.1"/>
<line x1="478.45" y1="246.70" x2="478.45" y2="252.50" stroke="#3a3a3a" stroke-width="1.1"/>
<text x="478.45" y="262.90" font-size="9.0" text-anchor="middle" font-weight="normal" font-style="normal" fill="#333" stroke="#333" >100</text>
<line x1="485.82" y1="246.70" x2="485.82" y2="250.60" stroke="#555" stroke-width="1.1"/>
<line x1="493.19" y1="246.70" x2="493.19" y2="250.60" stroke="#555" stroke-width="1.1"/>
<line x1="500.56" y1="246.70" x2="500.56" y2="250.60" stroke="#555" stroke-width="1.1"/>
<line x1="507.93" y1="246.70" x2="507.93" y2="250.60" stroke="#555" stroke-width="1.1"/>
<line x1="515.30" y1="246.70" x2="515.30" y2="252.50" stroke="#3a3a3a" stroke-width="1.1"/>
<text x="515.30" y="262.90" font-size="9.0" text-anchor="middle" font-weight="normal" font-style="normal" fill="#333" stroke="#333" >150</text>
<line x1="522.67" y1="246.70" x2="522.67" y2="250.60" stroke="#555" stroke-width="1.1"/>
<line x1="530.04" y1="246.70" x2="530.04" y2="250.60" stroke="#555" stroke-width="1.1"/>
<line x1="537.41" y1="246.70" x2="537.41" y2="250.60" stroke="#555" stroke-width="1.1"/>
<line x1="544.80" y1="246.70" x2="544.80" y2="252.50" stroke="#3a3a3a" stroke-width="1.1"/>
<text x="544.80" y="262.90" font-size="9.0" text-anchor="middle" font-weight="normal" font-style="normal" fill="#333" stroke="#333" >50</text>
<line x1="552.17" y1="246.70" x2="552.17" y2="250.60" stroke="#555" stroke-width="1.1"/>
<line x1="559.54" y1="246.70" x2="559.54" y2="250.60" stroke="#555" stroke-width="1.1"/>
<line x1="566.91" y1="246.70" x2="566.91" y2="250.60" stroke="#555" stroke-width="1.1"/>
<line x1="574.28" y1="246.70" x2="574.28" y2="250.60" stroke="#555" stroke-width="1.1"/>
<line x1="581.65" y1="246.70" x2="581.65" y2="252.50" stroke="#3a3a3a" stroke-width="1.1"/>
<text x="581.65" y="262.90" font-size="9.0" text-anchor="middle" font-weight="normal" font-style="normal" fill="#333" stroke="#333" >100</text>
<line x1="589.02" y1="246.70" x2="589.02" y2="250.60" stroke="#555" stroke-width="1.1"/>
<line x1="596.39" y1="246.70" x2="596.39" y2="250.60" stroke="#555" stroke-width="1.1"/>
<line x1="603.76" y1="246.70" x2="603.76" y2="250.60" stroke="#555" stroke-width="1.1"/>
<line x1="611.13" y1="246.70" x2="611.13" y2="250.60" stroke="#555" stroke-width="1.1"/>
<line x1="618.50" y1="246.70" x2="618.50" y2="252.50" stroke="#3a3a3a" stroke-width="1.1"/>
<text x="618.50" y="262.90" font-size="9.0" text-anchor="middle" font-weight="normal" font-style="normal" fill="#333" stroke="#333" >150</text>
<line x1="625.87" y1="246.70" x2="625.87" y2="250.60" stroke="#555" stroke-width="1.1"/>
<line x1="633.24" y1="246.70" x2="633.24" y2="250.60" stroke="#555" stroke-width="1.1"/>
<line x1="640.61" y1="246.70" x2="640.61" y2="250.60" stroke="#555" stroke-width="1.1"/>
<line x1="648.00" y1="246.70" x2="648.00" y2="252.50" stroke="#3a3a3a" stroke-width="1.1"/>
<text x="648.00" y="262.90" font-size="9.0" text-anchor="middle" font-weight="normal" font-style="normal" fill="#333" stroke="#333" >50</text>
<line x1="655.37" y1="246.70" x2="655.37" y2="250.60" stroke="#555" stroke-width="1.1"/>
<line x1="662.74" y1="246.70" x2="662.74" y2="250.60" stroke="#555" stroke-width="1.1"/>
<line x1="670.11" y1="246.70" x2="670.11" y2="250.60" stroke="#555" stroke-width="1.1"/>
<line x1="677.48" y1="246.70" x2="677.48" y2="250.60" stroke="#555" stroke-width="1.1"/>
<line x1="684.85" y1="246.70" x2="684.85" y2="252.50" stroke="#3a3a3a" stroke-width="1.1"/>
<text x="684.85" y="262.90" font-size="9.0" text-anchor="middle" font-weight="normal" font-style="normal" fill="#333" stroke="#333" >100</text>
<line x1="692.22" y1="246.70" x2="692.22" y2="250.60" stroke="#555" stroke-width="1.1"/>
<line x1="699.59" y1="246.70" x2="699.59" y2="250.60" stroke="#555" stroke-width="1.1"/>
<line x1="706.96" y1="246.70" x2="706.96" y2="250.60" stroke="#555" stroke-width="1.1"/>
<line x1="714.33" y1="246.70" x2="714.33" y2="250.60" stroke="#555" stroke-width="1.1"/>
<line x1="721.70" y1="246.70" x2="721.70" y2="252.50" stroke="#3a3a3a" stroke-width="1.1"/>
<text x="721.70" y="262.90" font-size="9.0" text-anchor="middle" font-weight="normal" font-style="normal" fill="#333" stroke="#333" >150</text>
<line x1="729.07" y1="246.70" x2="729.07" y2="250.60" stroke="#555" stroke-width="1.1"/>
<line x1="736.44" y1="246.70" x2="736.44" y2="250.60" stroke="#555" stroke-width="1.1"/>
<line x1="743.81" y1="246.70" x2="743.81" y2="250.60" stroke="#555" stroke-width="1.1"/>
<text x="395.60" y="147.30" font-size="14" text-anchor="start" font-weight="bold" font-style="normal" fill="#111" stroke="#111" >d</text>
<line x1="625.60" y1="157.80" x2="636.30" y2="157.80" stroke="#3348b0" stroke-width="2.0"/>
<text x="640.60" y="160.20" font-size="9.1" text-anchor="start" font-weight="normal" font-style="normal" fill="#333" stroke="#333" >CTR1</text>
<line x1="685.50" y1="157.80" x2="696.20" y2="157.80" stroke="#f04452" stroke-width="2.0"/>
<text x="700.50" y="160.20" font-size="9.1" text-anchor="start" font-weight="normal" font-style="normal" fill="#333" stroke="#333" >CTR1(M150L)</text>
<text x="520.70" y="199.10" font-size="9" text-anchor="middle" font-weight="normal" font-style="normal" fill="#333" stroke="#333" >(M150L)</text>
<text x="620.70" y="199.10" font-size="9" text-anchor="middle" font-weight="normal" font-style="normal" fill="#333" stroke="#333" >(M150L)</text>
<text x="723.60" y="199.10" font-size="9" text-anchor="middle" font-weight="normal" font-style="normal" fill="#333" stroke="#333" >(M150L)</text>
<line x1="515.30" y1="211.10" x2="515.30" y2="223.40" stroke="#aaa" stroke-width="0.8" stroke-dasharray="1 0.7"/>
<path d="M513.30 223.00 L517.30 223.00 L515.30 229.80 Z" fill="#111"/>
<line x1="618.30" y1="211.10" x2="618.30" y2="223.40" stroke="#aaa" stroke-width="0.8" stroke-dasharray="1 0.7"/>
<path d="M616.30 223.00 L620.30 223.00 L618.30 229.80 Z" fill="#111"/>
<line x1="721.20" y1="211.10" x2="721.20" y2="223.40" stroke="#aaa" stroke-width="0.8" stroke-dasharray="1 0.7"/>
<path d="M719.20 223.00 L723.20 223.00 L721.20 229.80 Z" fill="#111"/>
<line x1="438.20" y1="275.00" x2="438.20" y2="282.80" stroke="#333" stroke-width="1.1"/>
<line x1="751.70" y1="275.00" x2="751.70" y2="282.80" stroke="#333" stroke-width="1.1"/>
<line x1="438.20" y1="279.00" x2="461.00" y2="279.00" stroke="#444" stroke-width="1.2"/>
<line x1="518.00" y1="279.00" x2="540.40" y2="279.00" stroke="#444" stroke-width="1.2"/>
<line x1="543.50" y1="279.00" x2="566.00" y2="279.00" stroke="#444" stroke-width="1.2"/>
<line x1="622.50" y1="279.00" x2="645.10" y2="279.00" stroke="#444" stroke-width="1.2"/>
<line x1="648.40" y1="279.00" x2="671.30" y2="279.00" stroke="#444" stroke-width="1.2"/>
<line x1="728.30" y1="279.00" x2="751.70" y2="279.00" stroke="#444" stroke-width="1.2"/>
<text x="489.50" y="282.30" font-size="10.5" text-anchor="middle" font-weight="normal" font-style="normal" fill="#333" stroke="#333" >Subunit A</text>
<text x="594.50" y="282.30" font-size="10.5" text-anchor="middle" font-weight="normal" font-style="normal" fill="#333" stroke="#333" >Subunit B</text>
<text x="699.80" y="282.30" font-size="10.5" text-anchor="middle" font-weight="normal" font-style="normal" fill="#333" stroke="#333" >Subunit C</text>
<text x="593.50" y="300.1" font-size="10.4" text-anchor="middle" font-style="italic" fill="#222" stroke="#222">Residue index</text>
<text transform="translate(12.5 0) rotate(-90)" font-size="10.3" text-anchor="middle" fill="#222" stroke="#222"></text>
<line x1="540.40" y1="275.00" x2="540.40" y2="282.80" stroke="#333" stroke-width="1.1"/>
<line x1="543.50" y1="275.00" x2="543.50" y2="282.80" stroke="#333" stroke-width="1.1"/>
<line x1="645.10" y1="275.00" x2="645.10" y2="282.80" stroke="#333" stroke-width="1.1"/>
<line x1="648.40" y1="275.00" x2="648.40" y2="282.80" stroke="#333" stroke-width="1.1"/>
<text transform="translate(405.8 196.3) rotate(-90)" font-size="10.5" text-anchor="middle" fill="#222" stroke="#222"><tspan font-style="italic">RMSF</tspan> (Å)</text>
</svg>
</body></html>
